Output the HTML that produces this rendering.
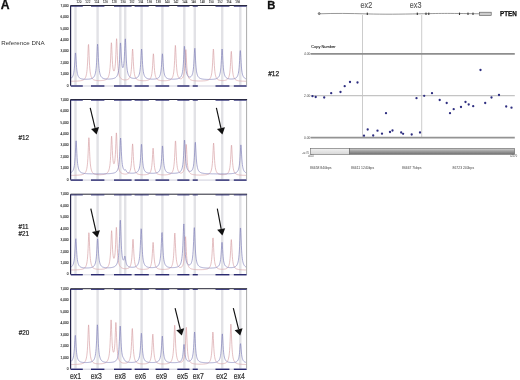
<!DOCTYPE html><html><head><meta charset="utf-8"><style>html,body{margin:0;padding:0;background:#fff;width:520px;height:380px;overflow:hidden}svg{display:block;will-change:transform}text{font-family:"Liberation Sans",sans-serif}</style></head><body>
<svg width="520" height="380" viewBox="0 0 520 380">
<text x="0.7" y="9.3" font-size="12.2" font-weight="bold" fill="#111" stroke="#111" stroke-width="0.3">A</text>
<text x="267.3" y="9.2" font-size="11.2" font-weight="bold" fill="#111" stroke="#111" stroke-width="0.3">B</text>
<rect x="74.30" y="5.50" width="2.4" height="80.00" fill="#e2e2e6"/>
<rect x="96.40" y="5.50" width="2.4" height="80.00" fill="#e2e2e6"/>
<rect x="119.10" y="5.50" width="2.4" height="80.00" fill="#e2e2e6"/>
<rect x="124.00" y="5.50" width="2.4" height="80.00" fill="#e2e2e6"/>
<rect x="140.40" y="5.50" width="2.4" height="80.00" fill="#e2e2e6"/>
<rect x="161.20" y="5.50" width="2.4" height="80.00" fill="#e2e2e6"/>
<rect x="183.10" y="5.50" width="2.4" height="80.00" fill="#e2e2e6"/>
<rect x="193.60" y="5.50" width="2.4" height="80.00" fill="#e2e2e6"/>
<rect x="221.00" y="5.50" width="2.4" height="80.00" fill="#e2e2e6"/>
<rect x="239.10" y="5.50" width="2.4" height="80.00" fill="#e2e2e6"/>
<path d="M71.10,81.29 L71.35,81.28 L71.60,81.28 L71.85,81.27 L72.10,81.27 L72.35,81.26 L72.60,81.26 L72.85,81.25 L73.10,81.24 L73.35,81.24 L73.60,81.23 L73.85,81.22 L74.10,81.22 L74.35,81.21 L74.60,81.20 L74.85,81.19 L75.10,81.18 L75.35,81.17 L75.60,81.16 L75.85,81.15 L76.10,81.14 L76.35,81.13 L76.60,81.11 L76.85,81.10 L77.10,81.09 L77.35,81.07 L77.60,81.05 L77.85,81.04 L78.10,81.02 L78.35,81.00 L78.60,80.98 L78.85,80.95 L79.10,80.93 L79.35,80.90 L79.60,80.87 L79.85,80.84 L80.10,80.81 L80.35,80.77 L80.60,80.73 L80.85,80.69 L81.10,80.64 L81.35,80.59 L81.60,80.53 L81.85,80.47 L82.10,80.40 L82.35,80.32 L82.60,80.23 L82.85,80.13 L83.10,80.02 L83.35,79.89 L83.60,79.75 L83.85,79.58 L84.10,79.39 L84.35,79.17 L84.60,78.91 L84.85,78.60 L85.10,78.24 L85.35,77.80 L85.60,77.27 L85.85,76.62 L86.10,75.81 L86.35,74.78 L86.60,73.47 L86.85,71.75 L87.10,69.45 L87.35,66.33 L87.60,62.10 L87.85,56.54 L88.10,50.13 L88.35,45.02 L88.60,44.46 L88.85,48.88 L89.10,55.27 L89.35,61.07 L89.60,65.56 L89.85,68.87 L90.10,71.30 L90.35,73.11 L90.60,74.49 L90.85,75.56 L91.10,76.41 L91.35,77.08 L91.60,77.62 L91.85,78.07 L92.10,78.44 L92.35,78.75 L92.60,79.01 L92.85,79.23 L93.10,79.42 L93.35,79.59 L93.60,79.73 L93.85,79.85 L94.10,79.96 L94.35,80.05 L94.60,80.13 L94.85,80.20 L95.10,80.27 L95.35,80.32 L95.60,80.37 L95.85,80.41 L96.10,80.45 L96.35,80.49 L96.60,80.52 L96.85,80.54 L97.10,80.56 L97.35,80.58 L97.60,80.60 L97.85,80.61 L98.10,80.62 L98.35,80.63 L98.60,80.64 L98.85,80.64 L99.10,80.65 L99.35,80.65 L99.60,80.64 L99.85,80.64 L100.10,80.63 L100.35,80.63 L100.60,80.62 L100.85,80.60 L101.10,80.59 L101.35,80.57 L101.60,80.56 L101.85,80.53 L102.10,80.51 L102.35,80.48 L102.60,80.45 L102.85,80.42 L103.10,80.39 L103.35,80.35 L103.60,80.30 L103.85,80.25 L104.10,80.20 L104.35,80.14 L104.60,80.07 L104.85,80.00 L105.10,79.91 L105.35,79.82 L105.60,79.72 L105.85,79.60 L106.10,79.47 L106.35,79.32 L106.60,79.15 L106.85,78.96 L107.10,78.74 L107.35,78.48 L107.60,78.18 L107.85,77.83 L108.10,77.41 L108.35,76.90 L108.60,76.29 L108.85,75.55 L109.10,74.62 L109.35,73.44 L109.60,71.93 L109.85,69.95 L110.10,67.31 L110.35,63.72 L110.60,58.91 L110.85,52.81 L111.10,46.47 L111.35,42.74 L111.60,44.23 L111.85,49.66 L112.10,55.77 L112.35,60.81 L112.60,64.50 L112.85,67.09 L113.10,68.87 L113.35,70.04 L113.60,70.74 L113.85,71.05 L114.10,71.00 L114.35,70.60 L114.60,69.79 L114.85,68.51 L115.10,66.61 L115.35,63.86 L115.60,59.98 L115.85,54.66 L116.10,47.99 L116.35,41.52 L116.60,38.70 L116.85,41.77 L117.10,48.50 L117.35,55.43 L117.60,61.05 L117.85,65.25 L118.10,68.34 L118.35,70.64 L118.60,72.39 L118.85,73.74 L119.10,74.80 L119.35,75.65 L119.60,76.33 L119.85,76.90 L120.10,77.36 L120.35,77.76 L120.60,78.09 L120.85,78.37 L121.10,78.61 L121.35,78.81 L121.60,78.99 L121.85,79.14 L122.10,79.27 L122.35,79.39 L122.60,79.49 L122.85,79.58 L123.10,79.65 L123.35,79.72 L123.60,79.77 L123.85,79.82 L124.10,79.85 L124.35,79.88 L124.60,79.90 L124.85,79.92 L125.10,79.92 L125.35,79.92 L125.60,79.92 L125.85,79.90 L126.10,79.88 L126.35,79.84 L126.60,79.80 L126.85,79.75 L127.10,79.68 L127.35,79.60 L127.60,79.51 L127.85,79.40 L128.10,79.26 L128.35,79.10 L128.60,78.91 L128.85,78.68 L129.10,78.41 L129.35,78.07 L129.60,77.67 L129.85,77.16 L130.10,76.54 L130.35,75.75 L130.60,74.74 L130.85,73.43 L131.10,71.68 L131.35,69.33 L131.60,66.11 L131.85,61.80 L132.10,56.46 L132.35,51.30 L132.60,49.00 L132.85,51.31 L133.10,56.49 L133.35,61.84 L133.60,66.16 L133.85,69.39 L134.10,71.75 L134.35,73.51 L134.60,74.84 L134.85,75.86 L135.10,76.66 L135.35,77.30 L135.60,77.82 L135.85,78.24 L136.10,78.59 L136.35,78.88 L136.60,79.12 L136.85,79.33 L137.10,79.51 L137.35,79.66 L137.60,79.80 L137.85,79.91 L138.10,80.01 L138.35,80.10 L138.60,80.18 L138.85,80.25 L139.10,80.31 L139.35,80.36 L139.60,80.41 L139.85,80.45 L140.10,80.49 L140.35,80.52 L140.60,80.55 L140.85,80.58 L141.10,80.60 L141.35,80.62 L141.60,80.64 L141.85,80.66 L142.10,80.67 L142.35,80.68 L142.60,80.69 L142.85,80.69 L143.10,80.70 L143.35,80.70 L143.60,80.70 L143.85,80.69 L144.10,80.69 L144.35,80.68 L144.60,80.67 L144.85,80.66 L145.10,80.65 L145.35,80.63 L145.60,80.61 L145.85,80.58 L146.10,80.56 L146.35,80.52 L146.60,80.49 L146.85,80.45 L147.10,80.40 L147.35,80.35 L147.60,80.28 L147.85,80.21 L148.10,80.13 L148.35,80.04 L148.60,79.93 L148.85,79.81 L149.10,79.67 L149.35,79.50 L149.60,79.30 L149.85,79.06 L150.10,78.78 L150.35,78.43 L150.60,78.01 L150.85,77.49 L151.10,76.84 L151.35,76.01 L151.60,74.94 L151.85,73.52 L152.10,71.61 L152.35,69.02 L152.60,65.51 L152.85,61.07 L153.10,56.45 L153.35,53.79 L153.60,55.00 L153.85,59.15 L154.10,63.83 L154.35,67.74 L154.60,70.67 L154.85,72.83 L155.10,74.42 L155.35,75.62 L155.60,76.54 L155.85,77.26 L156.10,77.83 L156.35,78.28 L156.60,78.65 L156.85,78.96 L157.10,79.22 L157.35,79.43 L157.60,79.61 L157.85,79.77 L158.10,79.90 L158.35,80.01 L158.60,80.11 L158.85,80.20 L159.10,80.27 L159.35,80.34 L159.60,80.40 L159.85,80.45 L160.10,80.49 L160.35,80.53 L160.60,80.57 L160.85,80.60 L161.10,80.62 L161.35,80.65 L161.60,80.67 L161.85,80.68 L162.10,80.70 L162.35,80.71 L162.60,80.72 L162.85,80.73 L163.10,80.74 L163.35,80.74 L163.60,80.74 L163.85,80.74 L164.10,80.74 L164.35,80.74 L164.60,80.73 L164.85,80.73 L165.10,80.72 L165.35,80.71 L165.60,80.70 L165.85,80.68 L166.10,80.66 L166.35,80.64 L166.60,80.62 L166.85,80.60 L167.10,80.57 L167.35,80.54 L167.60,80.50 L167.85,80.46 L168.10,80.42 L168.35,80.37 L168.60,80.32 L168.85,80.26 L169.10,80.19 L169.35,80.11 L169.60,80.02 L169.85,79.93 L170.10,79.81 L170.35,79.69 L170.60,79.54 L170.85,79.37 L171.10,79.18 L171.35,78.95 L171.60,78.69 L171.85,78.37 L172.10,77.99 L172.35,77.54 L172.60,76.99 L172.85,76.30 L173.10,75.45 L173.35,74.36 L173.60,72.96 L173.85,71.11 L174.10,68.62 L174.35,65.24 L174.60,60.68 L174.85,54.90 L175.10,48.89 L175.35,45.41 L175.60,46.98 L175.85,52.35 L176.10,58.41 L176.35,63.46 L176.60,67.26 L176.85,70.03 L177.10,72.08 L177.35,73.61 L177.60,74.78 L177.85,75.68 L178.10,76.39 L178.35,76.95 L178.60,77.39 L178.85,77.75 L179.10,78.03 L179.35,78.26 L179.60,78.43 L179.85,78.56 L180.10,78.66 L180.35,78.72 L180.60,78.75 L180.85,78.75 L181.10,78.72 L181.35,78.66 L181.60,78.56 L181.85,78.42 L182.10,78.24 L182.35,78.00 L182.60,77.70 L182.85,77.32 L183.10,76.84 L183.35,76.23 L183.60,75.44 L183.85,74.42 L184.10,73.08 L184.35,71.28 L184.60,68.83 L184.85,65.50 L185.10,61.05 L185.35,55.71 L185.60,50.98 L185.85,49.60 L186.10,52.67 L186.35,57.97 L186.60,63.07 L186.85,67.10 L187.10,70.09 L187.35,72.28 L187.60,73.92 L187.85,75.16 L188.10,76.12 L188.35,76.88 L188.60,77.48 L188.85,77.98 L189.10,78.38 L189.35,78.71 L189.60,79.00 L189.85,79.23 L190.10,79.44 L190.35,79.61 L190.60,79.76 L190.85,79.89 L191.10,80.01 L191.35,80.11 L191.60,80.20 L191.85,80.28 L192.10,80.35 L192.35,80.41 L192.60,80.47 L192.85,80.52 L193.10,80.57 L193.35,80.61 L193.60,80.65 L193.85,80.68 L194.10,80.71 L194.35,80.74 L194.60,80.77 L194.85,80.79 L195.10,80.81 L195.35,80.83 L195.60,80.85 L195.85,80.87 L196.10,80.88 L196.35,80.90 L196.60,80.91 L196.85,80.92 L197.10,80.93 L197.35,80.94 L197.60,80.95 L197.85,80.96 L198.10,80.96 L198.35,80.97 L198.60,80.97 L198.85,80.98 L199.10,80.98 L199.35,80.98 L199.60,80.98 L199.85,80.98 L200.10,80.98 L200.35,80.98 L200.60,80.98 L200.85,80.98 L201.10,80.97 L201.35,80.97 L201.60,80.97 L201.85,80.96 L202.10,80.95 L202.35,80.94 L202.60,80.93 L202.85,80.92 L203.10,80.91 L203.35,80.90 L203.60,80.89 L203.85,80.87 L204.10,80.85 L204.35,80.83 L204.60,80.81 L204.85,80.79 L205.10,80.76 L205.35,80.73 L205.60,80.70 L205.85,80.66 L206.10,80.62 L206.35,80.58 L206.60,80.53 L206.85,80.48 L207.10,80.42 L207.35,80.35 L207.60,80.27 L207.85,80.18 L208.10,80.08 L208.35,79.97 L208.60,79.84 L208.85,79.69 L209.10,79.52 L209.35,79.32 L209.60,79.08 L209.85,78.80 L210.10,78.46 L210.35,78.06 L210.60,77.56 L210.85,76.95 L211.10,76.18 L211.35,75.20 L211.60,73.94 L211.85,72.27 L212.10,70.03 L212.35,66.98 L212.60,62.87 L212.85,57.65 L213.10,52.23 L213.35,49.10 L213.60,50.53 L213.85,55.40 L214.10,60.89 L214.35,65.47 L214.60,68.91 L214.85,71.44 L215.10,73.31 L215.35,74.71 L215.60,75.79 L215.85,76.63 L216.10,77.30 L216.35,77.83 L216.60,78.27 L216.85,78.62 L217.10,78.92 L217.35,79.17 L217.60,79.38 L217.85,79.56 L218.10,79.71 L218.35,79.84 L218.60,79.96 L218.85,80.06 L219.10,80.14 L219.35,80.21 L219.60,80.28 L219.85,80.33 L220.10,80.38 L220.35,80.42 L220.60,80.46 L220.85,80.49 L221.10,80.51 L221.35,80.53 L221.60,80.55 L221.85,80.56 L222.10,80.57 L222.35,80.57 L222.60,80.57 L222.85,80.57 L223.10,80.56 L223.35,80.55 L223.60,80.54 L223.85,80.52 L224.10,80.49 L224.35,80.46 L224.60,80.43 L224.85,80.39 L225.10,80.34 L225.35,80.28 L225.60,80.21 L225.85,80.14 L226.10,80.05 L226.35,79.95 L226.60,79.83 L226.85,79.69 L227.10,79.52 L227.35,79.33 L227.60,79.10 L227.85,78.83 L228.10,78.50 L228.35,78.09 L228.60,77.60 L228.85,76.98 L229.10,76.20 L229.35,75.20 L229.60,73.90 L229.85,72.16 L230.10,69.81 L230.35,66.61 L230.60,62.35 L230.85,57.25 L231.10,52.72 L231.35,51.39 L231.60,54.31 L231.85,59.35 L232.10,64.21 L232.35,68.04 L232.60,70.88 L232.85,72.96 L233.10,74.51 L233.35,75.69 L233.60,76.60 L233.85,77.32 L234.10,77.89 L234.35,78.35 L234.60,78.73 L234.85,79.05 L235.10,79.31 L235.35,79.54 L235.60,79.73 L235.85,79.89 L236.10,80.03 L236.35,80.16 L236.60,80.26 L236.85,80.36 L237.10,80.44 L237.35,80.52 L237.60,80.58 L237.85,80.64 L238.10,80.70 L238.35,80.75 L238.60,80.79 L238.85,80.83 L239.10,80.87 L239.35,80.90 L239.60,80.93 L239.85,80.96 L240.10,80.98 L240.35,81.01 L240.60,81.03 L240.85,81.05 L241.10,81.07 L241.35,81.09 L241.60,81.10 L241.85,81.12 L242.10,81.13 L242.35,81.15 L242.60,81.16 L242.85,81.17 L243.10,81.18 L243.35,81.19 L243.60,81.20 L243.85,81.21 L244.10,81.22 L244.35,81.23 L244.60,81.24 L244.85,81.25 L245.10,81.25 L245.35,81.26 L245.60,81.27 L245.85,81.27 L246.10,81.28" fill="none" stroke="#d9a4a8" stroke-width="0.7"/>
<path d="M71.10,78.28 L71.35,78.10 L71.60,77.90 L71.85,77.65 L72.10,77.36 L72.35,77.02 L72.60,76.60 L72.85,76.08 L73.10,75.45 L73.35,74.65 L73.60,73.62 L73.85,72.30 L74.10,70.54 L74.35,68.20 L74.60,65.08 L74.85,61.10 L75.10,56.67 L75.35,53.27 L75.60,52.90 L75.85,55.83 L76.10,60.20 L76.35,64.33 L76.60,67.62 L76.85,70.10 L77.10,71.95 L77.35,73.35 L77.60,74.42 L77.85,75.25 L78.10,75.91 L78.35,76.44 L78.60,76.87 L78.85,77.22 L79.10,77.52 L79.35,77.77 L79.60,77.97 L79.85,78.15 L80.10,78.30 L80.35,78.43 L80.60,78.54 L80.85,78.64 L81.10,78.73 L81.35,78.80 L81.60,78.87 L81.85,78.93 L82.10,78.98 L82.35,79.02 L82.60,79.06 L82.85,79.09 L83.10,79.12 L83.35,79.15 L83.60,79.17 L83.85,79.19 L84.10,79.21 L84.35,79.22 L84.60,79.24 L84.85,79.25 L85.10,79.25 L85.35,79.26 L85.60,79.26 L85.85,79.26 L86.10,79.26 L86.35,79.26 L86.60,79.26 L86.85,79.25 L87.10,79.24 L87.35,79.23 L87.60,79.22 L87.85,79.20 L88.10,79.19 L88.35,79.17 L88.60,79.15 L88.85,79.12 L89.10,79.09 L89.35,79.06 L89.60,79.03 L89.85,78.99 L90.10,78.95 L90.35,78.90 L90.60,78.85 L90.85,78.79 L91.10,78.72 L91.35,78.64 L91.60,78.56 L91.85,78.46 L92.10,78.35 L92.35,78.23 L92.60,78.09 L92.85,77.93 L93.10,77.74 L93.35,77.53 L93.60,77.28 L93.85,76.98 L94.10,76.63 L94.35,76.21 L94.60,75.71 L94.85,75.10 L95.10,74.34 L95.35,73.39 L95.60,72.18 L95.85,70.63 L96.10,68.59 L96.35,65.87 L96.60,62.24 L96.85,57.48 L97.10,51.80 L97.35,46.50 L97.60,44.20 L97.85,46.49 L98.10,51.79 L98.35,57.47 L98.60,62.22 L98.85,65.85 L99.10,68.57 L99.35,70.61 L99.60,72.16 L99.85,73.36 L100.10,74.30 L100.35,75.06 L100.60,75.67 L100.85,76.17 L101.10,76.58 L101.35,76.93 L101.60,77.22 L101.85,77.47 L102.10,77.68 L102.35,77.86 L102.60,78.02 L102.85,78.15 L103.10,78.27 L103.35,78.37 L103.60,78.47 L103.85,78.55 L104.10,78.62 L104.35,78.68 L104.60,78.73 L104.85,78.78 L105.10,78.83 L105.35,78.86 L105.60,78.90 L105.85,78.93 L106.10,78.95 L106.35,78.97 L106.60,78.99 L106.85,79.01 L107.10,79.02 L107.35,79.03 L107.60,79.04 L107.85,79.05 L108.10,79.05 L108.35,79.05 L108.60,79.05 L108.85,79.05 L109.10,79.04 L109.35,79.03 L109.60,79.02 L109.85,79.01 L110.10,79.00 L110.35,78.98 L110.60,78.96 L110.85,78.94 L111.10,78.92 L111.35,78.89 L111.60,78.86 L111.85,78.83 L112.10,78.79 L112.35,78.75 L112.60,78.70 L112.85,78.65 L113.10,78.59 L113.35,78.53 L113.60,78.46 L113.85,78.39 L114.10,78.30 L114.35,78.21 L114.60,78.10 L114.85,77.98 L115.10,77.85 L115.35,77.70 L115.60,77.53 L115.85,77.34 L116.10,77.11 L116.35,76.86 L116.60,76.56 L116.85,76.21 L117.10,75.80 L117.35,75.31 L117.60,74.72 L117.85,74.01 L118.10,73.13 L118.35,72.04 L118.60,70.65 L118.85,68.86 L119.10,66.51 L119.35,63.39 L119.60,59.25 L119.85,53.98 L120.10,48.12 L120.35,43.57 L120.60,42.91 L120.85,46.49 L121.10,51.90 L121.35,56.95 L121.60,60.86 L121.85,63.67 L122.10,65.58 L122.35,66.81 L122.60,67.49 L122.85,67.69 L123.10,67.45 L123.35,66.74 L123.60,65.49 L123.85,63.56 L124.10,60.77 L124.35,56.83 L124.60,51.60 L124.85,45.47 L125.10,40.23 L125.35,38.84 L125.60,42.43 L125.85,48.69 L126.10,54.94 L126.35,60.04 L126.60,63.92 L126.85,66.83 L127.10,69.03 L127.35,70.72 L127.60,72.04 L127.85,73.09 L128.10,73.93 L128.35,74.62 L128.60,75.19 L128.85,75.67 L129.10,76.06 L129.35,76.40 L129.60,76.69 L129.85,76.94 L130.10,77.15 L130.35,77.34 L130.60,77.50 L130.85,77.64 L131.10,77.76 L131.35,77.87 L131.60,77.96 L131.85,78.04 L132.10,78.11 L132.35,78.17 L132.60,78.22 L132.85,78.26 L133.10,78.29 L133.35,78.32 L133.60,78.34 L133.85,78.35 L134.10,78.35 L134.35,78.35 L134.60,78.34 L134.85,78.32 L135.10,78.29 L135.35,78.25 L135.60,78.21 L135.85,78.15 L136.10,78.08 L136.35,78.00 L136.60,77.90 L136.85,77.78 L137.10,77.64 L137.35,77.47 L137.60,77.27 L137.85,77.03 L138.10,76.74 L138.35,76.40 L138.60,75.98 L138.85,75.46 L139.10,74.82 L139.35,74.02 L139.60,72.99 L139.85,71.67 L140.10,69.92 L140.35,67.59 L140.60,64.48 L140.85,60.40 L141.10,55.52 L141.35,50.97 L141.60,49.00 L141.85,50.98 L142.10,55.54 L142.35,60.43 L142.60,64.53 L142.85,67.66 L143.10,70.00 L143.35,71.75 L143.60,73.09 L143.85,74.13 L144.10,74.95 L144.35,75.60 L144.60,76.13 L144.85,76.57 L145.10,76.93 L145.35,77.23 L145.60,77.49 L145.85,77.70 L146.10,77.89 L146.35,78.05 L146.60,78.19 L146.85,78.31 L147.10,78.42 L147.35,78.51 L147.60,78.59 L147.85,78.66 L148.10,78.73 L148.35,78.79 L148.60,78.84 L148.85,78.88 L149.10,78.92 L149.35,78.96 L149.60,78.99 L149.85,79.02 L150.10,79.04 L150.35,79.06 L150.60,79.08 L150.85,79.10 L151.10,79.11 L151.35,79.12 L151.60,79.13 L151.85,79.14 L152.10,79.14 L152.35,79.14 L152.60,79.14 L152.85,79.14 L153.10,79.13 L153.35,79.13 L153.60,79.12 L153.85,79.10 L154.10,79.09 L154.35,79.07 L154.60,79.05 L154.85,79.02 L155.10,79.00 L155.35,78.96 L155.60,78.92 L155.85,78.88 L156.10,78.83 L156.35,78.78 L156.60,78.71 L156.85,78.64 L157.10,78.55 L157.35,78.46 L157.60,78.35 L157.85,78.22 L158.10,78.07 L158.35,77.89 L158.60,77.69 L158.85,77.44 L159.10,77.15 L159.35,76.80 L159.60,76.37 L159.85,75.84 L160.10,75.18 L160.35,74.35 L160.60,73.27 L160.85,71.86 L161.10,69.99 L161.35,67.48 L161.60,64.17 L161.85,60.11 L162.10,56.05 L162.35,53.77 L162.60,54.80 L162.85,58.40 L163.10,62.62 L163.35,66.26 L163.60,69.07 L163.85,71.18 L164.10,72.76 L164.35,73.95 L164.60,74.88 L164.85,75.60 L165.10,76.18 L165.35,76.65 L165.60,77.03 L165.85,77.34 L166.10,77.61 L166.35,77.83 L166.60,78.02 L166.85,78.18 L167.10,78.31 L167.35,78.43 L167.60,78.53 L167.85,78.62 L168.10,78.70 L168.35,78.77 L168.60,78.83 L168.85,78.88 L169.10,78.93 L169.35,78.97 L169.60,79.01 L169.85,79.04 L170.10,79.07 L170.35,79.09 L170.60,79.12 L170.85,79.13 L171.10,79.15 L171.35,79.16 L171.60,79.17 L171.85,79.18 L172.10,79.19 L172.35,79.19 L172.60,79.20 L172.85,79.20 L173.10,79.19 L173.35,79.19 L173.60,79.19 L173.85,79.18 L174.10,79.17 L174.35,79.16 L174.60,79.15 L174.85,79.13 L175.10,79.11 L175.35,79.09 L175.60,79.07 L175.85,79.04 L176.10,79.01 L176.35,78.98 L176.60,78.95 L176.85,78.91 L177.10,78.86 L177.35,78.81 L177.60,78.75 L177.85,78.69 L178.10,78.62 L178.35,78.54 L178.60,78.45 L178.85,78.35 L179.10,78.23 L179.35,78.10 L179.60,77.95 L179.85,77.78 L180.10,77.58 L180.35,77.35 L180.60,77.08 L180.85,76.76 L181.10,76.38 L181.35,75.92 L181.60,75.36 L181.85,74.67 L182.10,73.82 L182.35,72.74 L182.60,71.35 L182.85,69.53 L183.10,67.12 L183.35,63.90 L183.60,59.65 L183.85,54.44 L184.10,49.22 L184.35,46.30 L184.60,47.60 L184.85,52.19 L185.10,57.57 L185.35,62.21 L185.60,65.79 L185.85,68.47 L186.10,70.46 L186.35,71.97 L186.60,73.12 L186.85,74.02 L187.10,74.72 L187.35,75.28 L187.60,75.72 L187.85,76.08 L188.10,76.36 L188.35,76.59 L188.60,76.76 L188.85,76.89 L189.10,76.98 L189.35,77.04 L189.60,77.07 L189.85,77.06 L190.10,77.02 L190.35,76.94 L190.60,76.83 L190.85,76.68 L191.10,76.47 L191.35,76.21 L191.60,75.89 L191.85,75.48 L192.10,74.96 L192.35,74.30 L192.60,73.46 L192.85,72.39 L193.10,70.98 L193.35,69.11 L193.60,66.60 L193.85,63.24 L194.10,58.88 L194.35,53.83 L194.60,49.51 L194.85,48.29 L195.10,51.04 L195.35,55.95 L195.60,60.85 L195.85,64.85 L196.10,67.88 L196.35,70.15 L196.60,71.86 L196.85,73.16 L197.10,74.18 L197.35,74.99 L197.60,75.63 L197.85,76.16 L198.10,76.60 L198.35,76.96 L198.60,77.26 L198.85,77.52 L199.10,77.74 L199.35,77.93 L199.60,78.09 L199.85,78.24 L200.10,78.36 L200.35,78.47 L200.60,78.57 L200.85,78.66 L201.10,78.74 L201.35,78.81 L201.60,78.87 L201.85,78.92 L202.10,78.98 L202.35,79.02 L202.60,79.06 L202.85,79.10 L203.10,79.14 L203.35,79.17 L203.60,79.20 L203.85,79.22 L204.10,79.25 L204.35,79.27 L204.60,79.29 L204.85,79.31 L205.10,79.32 L205.35,79.34 L205.60,79.35 L205.85,79.36 L206.10,79.38 L206.35,79.39 L206.60,79.39 L206.85,79.40 L207.10,79.41 L207.35,79.41 L207.60,79.42 L207.85,79.42 L208.10,79.43 L208.35,79.43 L208.60,79.43 L208.85,79.43 L209.10,79.43 L209.35,79.43 L209.60,79.43 L209.85,79.42 L210.10,79.42 L210.35,79.41 L210.60,79.41 L210.85,79.40 L211.10,79.39 L211.35,79.38 L211.60,79.37 L211.85,79.36 L212.10,79.35 L212.35,79.33 L212.60,79.31 L212.85,79.29 L213.10,79.27 L213.35,79.25 L213.60,79.23 L213.85,79.20 L214.10,79.17 L214.35,79.13 L214.60,79.09 L214.85,79.05 L215.10,79.00 L215.35,78.95 L215.60,78.89 L215.85,78.83 L216.10,78.75 L216.35,78.67 L216.60,78.58 L216.85,78.47 L217.10,78.35 L217.35,78.21 L217.60,78.05 L217.85,77.86 L218.10,77.64 L218.35,77.39 L218.60,77.08 L218.85,76.72 L219.10,76.29 L219.35,75.75 L219.60,75.10 L219.85,74.28 L220.10,73.23 L220.35,71.89 L220.60,70.12 L220.85,67.77 L221.10,64.62 L221.35,60.50 L221.60,55.58 L221.85,50.99 L222.10,49.00 L222.35,50.99 L222.60,55.57 L222.85,60.49 L223.10,64.61 L223.35,67.75 L223.60,70.10 L223.85,71.87 L224.10,73.21 L224.35,74.25 L224.60,75.07 L224.85,75.72 L225.10,76.25 L225.35,76.68 L225.60,77.04 L225.85,77.34 L226.10,77.59 L226.35,77.80 L226.60,77.98 L226.85,78.14 L227.10,78.27 L227.35,78.39 L227.60,78.49 L227.85,78.57 L228.10,78.65 L228.35,78.72 L228.60,78.77 L228.85,78.82 L229.10,78.87 L229.35,78.90 L229.60,78.94 L229.85,78.96 L230.10,78.98 L230.35,79.00 L230.60,79.01 L230.85,79.02 L231.10,79.03 L231.35,79.03 L231.60,79.03 L231.85,79.02 L232.10,79.01 L232.35,79.00 L232.60,78.98 L232.85,78.96 L233.10,78.93 L233.35,78.89 L233.60,78.85 L233.85,78.81 L234.10,78.75 L234.35,78.69 L234.60,78.62 L234.85,78.54 L235.10,78.44 L235.35,78.33 L235.60,78.20 L235.85,78.05 L236.10,77.87 L236.35,77.67 L236.60,77.42 L236.85,77.13 L237.10,76.78 L237.35,76.35 L237.60,75.83 L237.85,75.18 L238.10,74.36 L238.35,73.33 L238.60,71.98 L238.85,70.20 L239.10,67.83 L239.35,64.66 L239.60,60.55 L239.85,55.80 L240.10,51.74 L240.35,50.58 L240.60,53.15 L240.85,57.74 L241.10,62.33 L241.35,66.07 L241.60,68.90 L241.85,71.02 L242.10,72.61 L242.35,73.83 L242.60,74.78 L242.85,75.53 L243.10,76.13 L243.35,76.62 L243.60,77.03 L243.85,77.36 L244.10,77.64 L244.35,77.88 L244.60,78.08 L244.85,78.26 L245.10,78.41 L245.35,78.54 L245.60,78.66 L245.85,78.76 L246.10,78.85" fill="none" stroke="#8484bc" stroke-width="0.7"/>
<line x1="246.60" y1="5.50" x2="246.60" y2="85.50" stroke="#aaa" stroke-width="1"/>
<line x1="70.60" y1="5.50" x2="70.60" y2="86.10" stroke="#26264a" stroke-width="1.2"/>
<line x1="70.60" y1="5.50" x2="247.10" y2="5.50" stroke="#1a1a2a" stroke-width="0.95"/>
<rect x="70.60" y="85.30" width="176.50" height="1.4" fill="#dcdce6"/>
<rect x="70.80" y="5.80" width="12.00" height="0.9" fill="#34347a"/>
<rect x="70.80" y="85.30" width="12.00" height="1.4" fill="#2a2a70"/>
<rect x="91.00" y="5.80" width="13.40" height="0.9" fill="#34347a"/>
<rect x="91.00" y="85.30" width="13.40" height="1.4" fill="#2a2a70"/>
<rect x="114.00" y="5.80" width="17.60" height="0.9" fill="#34347a"/>
<rect x="114.00" y="85.30" width="17.60" height="1.4" fill="#2a2a70"/>
<rect x="134.60" y="5.80" width="14.20" height="0.9" fill="#34347a"/>
<rect x="134.60" y="85.30" width="14.20" height="1.4" fill="#2a2a70"/>
<rect x="155.50" y="5.80" width="13.70" height="0.9" fill="#34347a"/>
<rect x="155.50" y="85.30" width="13.70" height="1.4" fill="#2a2a70"/>
<rect x="177.30" y="5.80" width="12.10" height="0.9" fill="#34347a"/>
<rect x="177.30" y="85.30" width="12.10" height="1.4" fill="#2a2a70"/>
<rect x="192.70" y="5.80" width="5.10" height="0.9" fill="#34347a"/>
<rect x="192.70" y="85.30" width="5.10" height="1.4" fill="#2a2a70"/>
<rect x="215.50" y="5.80" width="13.90" height="0.9" fill="#34347a"/>
<rect x="215.50" y="85.30" width="13.90" height="1.4" fill="#2a2a70"/>
<rect x="233.80" y="5.80" width="12.80" height="0.9" fill="#34347a"/>
<rect x="233.80" y="85.30" width="12.80" height="1.4" fill="#2a2a70"/>
<text x="68.6" y="6.70" font-size="3.2" text-anchor="end" fill="#111" stroke="#111" stroke-width="0.08">7,000</text>
<text x="68.6" y="18.13" font-size="3.2" text-anchor="end" fill="#111" stroke="#111" stroke-width="0.08">6,000</text>
<text x="68.6" y="29.56" font-size="3.2" text-anchor="end" fill="#111" stroke="#111" stroke-width="0.08">5,000</text>
<text x="68.6" y="40.99" font-size="3.2" text-anchor="end" fill="#111" stroke="#111" stroke-width="0.08">4,000</text>
<text x="68.6" y="52.41" font-size="3.2" text-anchor="end" fill="#111" stroke="#111" stroke-width="0.08">3,000</text>
<text x="68.6" y="63.84" font-size="3.2" text-anchor="end" fill="#111" stroke="#111" stroke-width="0.08">2,000</text>
<text x="68.6" y="75.27" font-size="3.2" text-anchor="end" fill="#111" stroke="#111" stroke-width="0.08">1,000</text>
<text x="68.6" y="86.70" font-size="3.2" text-anchor="end" fill="#111" stroke="#111" stroke-width="0.08">0</text>
<text x="79.00" y="3.10" font-size="3.0" text-anchor="middle" fill="#222" stroke="#222" stroke-width="0.06">120</text>
<text x="87.82" y="3.10" font-size="3.0" text-anchor="middle" fill="#222" stroke="#222" stroke-width="0.06">122</text>
<text x="96.64" y="3.10" font-size="3.0" text-anchor="middle" fill="#222" stroke="#222" stroke-width="0.06">124</text>
<text x="105.46" y="3.10" font-size="3.0" text-anchor="middle" fill="#222" stroke="#222" stroke-width="0.06">126</text>
<text x="114.28" y="3.10" font-size="3.0" text-anchor="middle" fill="#222" stroke="#222" stroke-width="0.06">128</text>
<text x="123.10" y="3.10" font-size="3.0" text-anchor="middle" fill="#222" stroke="#222" stroke-width="0.06">130</text>
<text x="131.92" y="3.10" font-size="3.0" text-anchor="middle" fill="#222" stroke="#222" stroke-width="0.06">132</text>
<text x="140.74" y="3.10" font-size="3.0" text-anchor="middle" fill="#222" stroke="#222" stroke-width="0.06">134</text>
<text x="149.56" y="3.10" font-size="3.0" text-anchor="middle" fill="#222" stroke="#222" stroke-width="0.06">136</text>
<text x="158.38" y="3.10" font-size="3.0" text-anchor="middle" fill="#222" stroke="#222" stroke-width="0.06">138</text>
<text x="167.20" y="3.10" font-size="3.0" text-anchor="middle" fill="#222" stroke="#222" stroke-width="0.06">140</text>
<text x="176.02" y="3.10" font-size="3.0" text-anchor="middle" fill="#222" stroke="#222" stroke-width="0.06">142</text>
<text x="184.84" y="3.10" font-size="3.0" text-anchor="middle" fill="#222" stroke="#222" stroke-width="0.06">144</text>
<text x="193.66" y="3.10" font-size="3.0" text-anchor="middle" fill="#222" stroke="#222" stroke-width="0.06">146</text>
<text x="202.48" y="3.10" font-size="3.0" text-anchor="middle" fill="#222" stroke="#222" stroke-width="0.06">148</text>
<text x="211.30" y="3.10" font-size="3.0" text-anchor="middle" fill="#222" stroke="#222" stroke-width="0.06">150</text>
<text x="220.12" y="3.10" font-size="3.0" text-anchor="middle" fill="#222" stroke="#222" stroke-width="0.06">152</text>
<text x="228.94" y="3.10" font-size="3.0" text-anchor="middle" fill="#222" stroke="#222" stroke-width="0.06">154</text>
<text x="237.76" y="3.10" font-size="3.0" text-anchor="middle" fill="#222" stroke="#222" stroke-width="0.06">156</text>
<text x="1.2" y="45.4" font-size="6.2" fill="#333">Reference DNA</text>
<rect x="74.30" y="99.50" width="2.4" height="80.10" fill="#e2e2e6"/>
<rect x="96.40" y="99.50" width="2.4" height="80.10" fill="#e2e2e6"/>
<rect x="119.10" y="99.50" width="2.4" height="80.10" fill="#e2e2e6"/>
<rect x="140.40" y="99.50" width="2.4" height="80.10" fill="#e2e2e6"/>
<rect x="161.20" y="99.50" width="2.4" height="80.10" fill="#e2e2e6"/>
<rect x="183.10" y="99.50" width="2.4" height="80.10" fill="#e2e2e6"/>
<rect x="193.60" y="99.50" width="2.4" height="80.10" fill="#e2e2e6"/>
<rect x="221.00" y="99.50" width="2.4" height="80.10" fill="#e2e2e6"/>
<rect x="239.10" y="99.50" width="2.4" height="80.10" fill="#e2e2e6"/>
<path d="M71.10,175.39 L71.35,175.39 L71.60,175.38 L71.85,175.38 L72.10,175.37 L72.35,175.37 L72.60,175.36 L72.85,175.36 L73.10,175.35 L73.35,175.35 L73.60,175.34 L73.85,175.33 L74.10,175.32 L74.35,175.32 L74.60,175.31 L74.85,175.30 L75.10,175.29 L75.35,175.28 L75.60,175.27 L75.85,175.26 L76.10,175.25 L76.35,175.24 L76.60,175.23 L76.85,175.22 L77.10,175.20 L77.35,175.19 L77.60,175.17 L77.85,175.16 L78.10,175.14 L78.35,175.12 L78.60,175.10 L78.85,175.08 L79.10,175.06 L79.35,175.04 L79.60,175.01 L79.85,174.98 L80.10,174.95 L80.35,174.92 L80.60,174.89 L80.85,174.85 L81.10,174.81 L81.35,174.76 L81.60,174.71 L81.85,174.65 L82.10,174.59 L82.35,174.53 L82.60,174.45 L82.85,174.37 L83.10,174.27 L83.35,174.17 L83.60,174.05 L83.85,173.91 L84.10,173.76 L84.35,173.58 L84.60,173.38 L84.85,173.14 L85.10,172.86 L85.35,172.52 L85.60,172.13 L85.85,171.65 L86.10,171.07 L86.35,170.35 L86.60,169.45 L86.85,168.30 L87.10,166.82 L87.35,164.86 L87.60,162.24 L87.85,158.67 L88.10,153.85 L88.35,147.74 L88.60,141.39 L88.85,137.72 L89.10,139.39 L89.35,145.09 L89.60,151.52 L89.85,156.88 L90.10,160.91 L90.35,163.87 L90.60,166.06 L90.85,167.70 L91.10,168.96 L91.35,169.95 L91.60,170.73 L91.85,171.35 L92.10,171.86 L92.35,172.28 L92.60,172.63 L92.85,172.92 L93.10,173.17 L93.35,173.38 L93.60,173.56 L93.85,173.72 L94.10,173.85 L94.35,173.97 L94.60,174.07 L94.85,174.16 L95.10,174.24 L95.35,174.31 L95.60,174.37 L95.85,174.42 L96.10,174.47 L96.35,174.51 L96.60,174.55 L96.85,174.58 L97.10,174.60 L97.35,174.63 L97.60,174.65 L97.85,174.67 L98.10,174.68 L98.35,174.69 L98.60,174.70 L98.85,174.71 L99.10,174.72 L99.35,174.72 L99.60,174.72 L99.85,174.72 L100.10,174.71 L100.35,174.71 L100.60,174.70 L100.85,174.69 L101.10,174.68 L101.35,174.66 L101.60,174.65 L101.85,174.63 L102.10,174.61 L102.35,174.58 L102.60,174.55 L102.85,174.52 L103.10,174.49 L103.35,174.45 L103.60,174.41 L103.85,174.36 L104.10,174.31 L104.35,174.26 L104.60,174.19 L104.85,174.12 L105.10,174.05 L105.35,173.96 L105.60,173.86 L105.85,173.76 L106.10,173.64 L106.35,173.50 L106.60,173.34 L106.85,173.17 L107.10,172.96 L107.35,172.73 L107.60,172.46 L107.85,172.14 L108.10,171.77 L108.35,171.33 L108.60,170.80 L108.85,170.15 L109.10,169.36 L109.35,168.37 L109.60,167.12 L109.85,165.51 L110.10,163.39 L110.35,160.55 L110.60,156.70 L110.85,151.56 L111.10,145.21 L111.35,139.05 L111.60,136.20 L111.85,138.69 L112.10,144.49 L112.35,150.45 L112.60,155.18 L112.85,158.57 L113.10,160.90 L113.35,162.43 L113.60,163.34 L113.85,163.75 L114.10,163.71 L114.35,163.21 L114.60,162.21 L114.85,160.58 L115.10,158.15 L115.35,154.63 L115.60,149.70 L115.85,143.34 L116.10,136.68 L116.35,132.89 L116.60,134.85 L116.85,141.15 L117.10,148.22 L117.35,154.12 L117.60,158.57 L117.85,161.85 L118.10,164.29 L118.35,166.13 L118.60,167.55 L118.85,168.67 L119.10,169.56 L119.35,170.27 L119.60,170.86 L119.85,171.35 L120.10,171.76 L120.35,172.10 L120.60,172.40 L120.85,172.65 L121.10,172.86 L121.35,173.05 L121.60,173.21 L121.85,173.35 L122.10,173.47 L122.35,173.57 L122.60,173.66 L122.85,173.74 L123.10,173.81 L123.35,173.87 L123.60,173.92 L123.85,173.96 L124.10,174.00 L124.35,174.02 L124.60,174.04 L124.85,174.06 L125.10,174.06 L125.35,174.06 L125.60,174.05 L125.85,174.04 L126.10,174.01 L126.35,173.98 L126.60,173.94 L126.85,173.89 L127.10,173.82 L127.35,173.74 L127.60,173.65 L127.85,173.54 L128.10,173.41 L128.35,173.25 L128.60,173.07 L128.85,172.84 L129.10,172.58 L129.35,172.25 L129.60,171.85 L129.85,171.37 L130.10,170.76 L130.35,169.99 L130.60,169.00 L130.85,167.72 L131.10,166.02 L131.35,163.72 L131.60,160.59 L131.85,156.38 L132.10,151.18 L132.35,146.14 L132.60,143.90 L132.85,146.15 L133.10,151.20 L133.35,156.42 L133.60,160.63 L133.85,163.78 L134.10,166.09 L134.35,167.80 L134.60,169.10 L134.85,170.09 L135.10,170.88 L135.35,171.50 L135.60,172.00 L135.85,172.41 L136.10,172.75 L136.35,173.03 L136.60,173.27 L136.85,173.48 L137.10,173.65 L137.35,173.80 L137.60,173.93 L137.85,174.04 L138.10,174.14 L138.35,174.22 L138.60,174.30 L138.85,174.37 L139.10,174.43 L139.35,174.48 L139.60,174.53 L139.85,174.57 L140.10,174.60 L140.35,174.64 L140.60,174.66 L140.85,174.69 L141.10,174.71 L141.35,174.73 L141.60,174.75 L141.85,174.76 L142.10,174.77 L142.35,174.78 L142.60,174.79 L142.85,174.79 L143.10,174.79 L143.35,174.79 L143.60,174.79 L143.85,174.79 L144.10,174.78 L144.35,174.77 L144.60,174.76 L144.85,174.74 L145.10,174.73 L145.35,174.71 L145.60,174.68 L145.85,174.66 L146.10,174.62 L146.35,174.59 L146.60,174.55 L146.85,174.50 L147.10,174.45 L147.35,174.38 L147.60,174.31 L147.85,174.23 L148.10,174.14 L148.35,174.03 L148.60,173.90 L148.85,173.76 L149.10,173.59 L149.35,173.38 L149.60,173.14 L149.85,172.85 L150.10,172.50 L150.35,172.07 L150.60,171.53 L150.85,170.86 L151.10,170.00 L151.35,168.88 L151.60,167.40 L151.85,165.40 L152.10,162.68 L152.35,159.03 L152.60,154.52 L152.85,150.15 L153.10,148.20 L153.35,150.15 L153.60,154.52 L153.85,159.04 L154.10,162.69 L154.35,165.41 L154.60,167.41 L154.85,168.89 L155.10,170.01 L155.35,170.87 L155.60,171.54 L155.85,172.08 L156.10,172.51 L156.35,172.87 L156.60,173.16 L156.85,173.40 L157.10,173.61 L157.35,173.78 L157.60,173.93 L157.85,174.05 L158.10,174.16 L158.35,174.26 L158.60,174.34 L158.85,174.41 L159.10,174.48 L159.35,174.53 L159.60,174.58 L159.85,174.63 L160.10,174.67 L160.35,174.70 L160.60,174.73 L160.85,174.76 L161.10,174.78 L161.35,174.80 L161.60,174.82 L161.85,174.83 L162.10,174.84 L162.35,174.86 L162.60,174.86 L162.85,174.87 L163.10,174.88 L163.35,174.88 L163.60,174.88 L163.85,174.88 L164.10,174.88 L164.35,174.88 L164.60,174.87 L164.85,174.86 L165.10,174.86 L165.35,174.85 L165.60,174.83 L165.85,174.82 L166.10,174.80 L166.35,174.78 L166.60,174.76 L166.85,174.74 L167.10,174.71 L167.35,174.68 L167.60,174.65 L167.85,174.62 L168.10,174.57 L168.35,174.53 L168.60,174.48 L168.85,174.42 L169.10,174.36 L169.35,174.29 L169.60,174.21 L169.85,174.12 L170.10,174.01 L170.35,173.90 L170.60,173.76 L170.85,173.61 L171.10,173.43 L171.35,173.23 L171.60,172.98 L171.85,172.70 L172.10,172.36 L172.35,171.95 L172.60,171.46 L172.85,170.85 L173.10,170.09 L173.35,169.14 L173.60,167.91 L173.85,166.31 L174.10,164.17 L174.35,161.27 L174.60,157.33 L174.85,152.16 L175.10,146.20 L175.35,141.45 L175.60,140.92 L175.85,145.02 L176.10,150.94 L176.35,156.31 L176.60,160.46 L176.85,163.52 L177.10,165.76 L177.35,167.43 L177.60,168.69 L177.85,169.66 L178.10,170.42 L178.35,171.01 L178.60,171.49 L178.85,171.87 L179.10,172.18 L179.35,172.42 L179.60,172.62 L179.85,172.77 L180.10,172.88 L180.35,172.97 L180.60,173.02 L180.85,173.04 L181.10,173.04 L181.35,173.01 L181.60,172.96 L181.85,172.87 L182.10,172.74 L182.35,172.58 L182.60,172.37 L182.85,172.11 L183.10,171.77 L183.35,171.35 L183.60,170.82 L183.85,170.15 L184.10,169.29 L184.35,168.16 L184.60,166.67 L184.85,164.66 L185.10,161.92 L185.35,158.19 L185.60,153.37 L185.85,148.06 L186.10,144.38 L186.35,144.86 L186.60,149.13 L186.85,154.49 L187.10,159.14 L187.35,162.68 L187.60,165.29 L187.85,167.21 L188.10,168.65 L188.35,169.76 L188.60,170.62 L188.85,171.30 L189.10,171.85 L189.35,172.30 L189.60,172.67 L189.85,172.97 L190.10,173.23 L190.35,173.45 L190.60,173.64 L190.85,173.80 L191.10,173.94 L191.35,174.07 L191.60,174.17 L191.85,174.27 L192.10,174.35 L192.35,174.43 L192.60,174.49 L192.85,174.55 L193.10,174.61 L193.35,174.65 L193.60,174.70 L193.85,174.74 L194.10,174.77 L194.35,174.81 L194.60,174.84 L194.85,174.86 L195.10,174.89 L195.35,174.91 L195.60,174.93 L195.85,174.95 L196.10,174.97 L196.35,174.98 L196.60,175.00 L196.85,175.01 L197.10,175.02 L197.35,175.03 L197.60,175.04 L197.85,175.05 L198.10,175.06 L198.35,175.06 L198.60,175.07 L198.85,175.07 L199.10,175.08 L199.35,175.08 L199.60,175.08 L199.85,175.08 L200.10,175.08 L200.35,175.08 L200.60,175.08 L200.85,175.08 L201.10,175.08 L201.35,175.07 L201.60,175.07 L201.85,175.06 L202.10,175.06 L202.35,175.05 L202.60,175.04 L202.85,175.03 L203.10,175.02 L203.35,175.01 L203.60,175.00 L203.85,174.98 L204.10,174.97 L204.35,174.95 L204.60,174.93 L204.85,174.91 L205.10,174.88 L205.35,174.86 L205.60,174.83 L205.85,174.79 L206.10,174.76 L206.35,174.72 L206.60,174.67 L206.85,174.62 L207.10,174.57 L207.35,174.50 L207.60,174.43 L207.85,174.35 L208.10,174.27 L208.35,174.16 L208.60,174.05 L208.85,173.91 L209.10,173.76 L209.35,173.58 L209.60,173.37 L209.85,173.13 L210.10,172.84 L210.35,172.49 L210.60,172.07 L210.85,171.55 L211.10,170.91 L211.35,170.10 L211.60,169.08 L211.85,167.74 L212.10,165.98 L212.35,163.60 L212.60,160.35 L212.85,156.01 L213.10,150.63 L213.35,145.42 L213.60,143.10 L213.85,145.42 L214.10,150.62 L214.35,156.00 L214.60,160.34 L214.85,163.58 L215.10,165.96 L215.35,167.72 L215.60,169.05 L215.85,170.07 L216.10,170.87 L216.35,171.51 L216.60,172.02 L216.85,172.44 L217.10,172.79 L217.35,173.07 L217.60,173.31 L217.85,173.52 L218.10,173.69 L218.35,173.84 L218.60,173.97 L218.85,174.07 L219.10,174.17 L219.35,174.25 L219.60,174.32 L219.85,174.39 L220.10,174.44 L220.35,174.49 L220.60,174.53 L220.85,174.56 L221.10,174.59 L221.35,174.61 L221.60,174.63 L221.85,174.65 L222.10,174.66 L222.35,174.66 L222.60,174.67 L222.85,174.67 L223.10,174.66 L223.35,174.65 L223.60,174.64 L223.85,174.62 L224.10,174.60 L224.35,174.58 L224.60,174.54 L224.85,174.51 L225.10,174.46 L225.35,174.41 L225.60,174.35 L225.85,174.28 L226.10,174.20 L226.35,174.11 L226.60,174.00 L226.85,173.87 L227.10,173.73 L227.35,173.55 L227.60,173.35 L227.85,173.11 L228.10,172.82 L228.35,172.46 L228.60,172.04 L228.85,171.51 L229.10,170.85 L229.35,170.02 L229.60,168.94 L229.85,167.54 L230.10,165.66 L230.35,163.11 L230.60,159.64 L230.85,155.08 L231.10,149.82 L231.35,145.63 L231.60,145.18 L231.85,148.82 L232.10,154.07 L232.35,158.84 L232.60,162.52 L232.85,165.25 L233.10,167.25 L233.35,168.75 L233.60,169.88 L233.85,170.77 L234.10,171.47 L234.35,172.02 L234.60,172.48 L234.85,172.85 L235.10,173.16 L235.35,173.42 L235.60,173.64 L235.85,173.83 L236.10,173.99 L236.35,174.13 L236.60,174.26 L236.85,174.36 L237.10,174.46 L237.35,174.54 L237.60,174.61 L237.85,174.68 L238.10,174.74 L238.35,174.79 L238.60,174.84 L238.85,174.89 L239.10,174.93 L239.35,174.96 L239.60,175.00 L239.85,175.03 L240.10,175.06 L240.35,175.08 L240.60,175.11 L240.85,175.13 L241.10,175.15 L241.35,175.17 L241.60,175.18 L241.85,175.20 L242.10,175.22 L242.35,175.23 L242.60,175.25 L242.85,175.26 L243.10,175.27 L243.35,175.28 L243.60,175.29 L243.85,175.30 L244.10,175.31 L244.35,175.32 L244.60,175.33 L244.85,175.34 L245.10,175.35 L245.35,175.35 L245.60,175.36 L245.85,175.37 L246.10,175.37" fill="none" stroke="#d9a4a8" stroke-width="0.7"/>
<path d="M71.10,172.52 L71.35,172.36 L71.60,172.19 L71.85,171.99 L72.10,171.75 L72.35,171.47 L72.60,171.14 L72.85,170.75 L73.10,170.28 L73.35,169.70 L73.60,168.99 L73.85,168.11 L74.10,166.98 L74.35,165.53 L74.60,163.62 L74.85,161.08 L75.10,157.67 L75.35,153.22 L75.60,147.91 L75.85,142.95 L76.10,140.80 L76.35,142.95 L76.60,147.90 L76.85,153.22 L77.10,157.67 L77.35,161.07 L77.60,163.61 L77.85,165.52 L78.10,166.97 L78.35,168.10 L78.60,168.99 L78.85,169.70 L79.10,170.27 L79.35,170.74 L79.60,171.13 L79.85,171.46 L80.10,171.74 L80.35,171.97 L80.60,172.17 L80.85,172.35 L81.10,172.50 L81.35,172.63 L81.60,172.75 L81.85,172.85 L82.10,172.94 L82.35,173.02 L82.60,173.09 L82.85,173.16 L83.10,173.22 L83.35,173.27 L83.60,173.32 L83.85,173.36 L84.10,173.40 L84.35,173.44 L84.60,173.47 L84.85,173.50 L85.10,173.53 L85.35,173.55 L85.60,173.58 L85.85,173.60 L86.10,173.62 L86.35,173.64 L86.60,173.65 L86.85,173.67 L87.10,173.69 L87.35,173.70 L87.60,173.71 L87.85,173.72 L88.10,173.74 L88.35,173.75 L88.60,173.76 L88.85,173.77 L89.10,173.77 L89.35,173.78 L89.60,173.79 L89.85,173.80 L90.10,173.80 L90.35,173.81 L90.60,173.82 L90.85,173.82 L91.10,173.83 L91.35,173.83 L91.60,173.84 L91.85,173.84 L92.10,173.84 L92.35,173.85 L92.60,173.85 L92.85,173.85 L93.10,173.86 L93.35,173.86 L93.60,173.86 L93.85,173.86 L94.10,173.87 L94.35,173.87 L94.60,173.87 L94.85,173.87 L95.10,173.87 L95.35,173.87 L95.60,173.88 L95.85,173.88 L96.10,173.88 L96.35,173.88 L96.60,173.88 L96.85,173.88 L97.10,173.88 L97.35,173.88 L97.60,173.88 L97.85,173.88 L98.10,173.88 L98.35,173.88 L98.60,173.88 L98.85,173.88 L99.10,173.88 L99.35,173.87 L99.60,173.87 L99.85,173.87 L100.10,173.87 L100.35,173.87 L100.60,173.87 L100.85,173.86 L101.10,173.86 L101.35,173.86 L101.60,173.86 L101.85,173.86 L102.10,173.85 L102.35,173.85 L102.60,173.85 L102.85,173.84 L103.10,173.84 L103.35,173.84 L103.60,173.83 L103.85,173.83 L104.10,173.82 L104.35,173.82 L104.60,173.81 L104.85,173.81 L105.10,173.80 L105.35,173.79 L105.60,173.79 L105.85,173.78 L106.10,173.77 L106.35,173.77 L106.60,173.76 L106.85,173.75 L107.10,173.74 L107.35,173.73 L107.60,173.72 L107.85,173.71 L108.10,173.70 L108.35,173.69 L108.60,173.68 L108.85,173.66 L109.10,173.65 L109.35,173.63 L109.60,173.62 L109.85,173.60 L110.10,173.58 L110.35,173.56 L110.60,173.54 L110.85,173.51 L111.10,173.49 L111.35,173.46 L111.60,173.43 L111.85,173.40 L112.10,173.37 L112.35,173.33 L112.60,173.29 L112.85,173.24 L113.10,173.19 L113.35,173.14 L113.60,173.08 L113.85,173.02 L114.10,172.94 L114.35,172.86 L114.60,172.77 L114.85,172.67 L115.10,172.56 L115.35,172.43 L115.60,172.28 L115.85,172.12 L116.10,171.93 L116.35,171.71 L116.60,171.45 L116.85,171.15 L117.10,170.79 L117.35,170.36 L117.60,169.85 L117.85,169.23 L118.10,168.46 L118.35,167.50 L118.60,166.28 L118.85,164.70 L119.10,162.64 L119.35,159.90 L119.60,156.22 L119.85,151.42 L120.10,145.68 L120.35,140.33 L120.60,138.00 L120.85,140.30 L121.10,145.62 L121.35,151.33 L121.60,156.10 L121.85,159.74 L122.10,162.45 L122.35,164.47 L122.60,165.99 L122.85,167.15 L123.10,168.04 L123.35,168.72 L123.60,169.23 L123.85,169.60 L124.10,169.84 L124.35,169.95 L124.60,169.92 L124.85,169.78 L125.10,169.61 L125.35,169.57 L125.60,169.83 L125.85,170.31 L126.10,170.84 L126.35,171.29 L126.60,171.66 L126.85,171.94 L127.10,172.16 L127.35,172.34 L127.60,172.49 L127.85,172.61 L128.10,172.71 L128.35,172.79 L128.60,172.86 L128.85,172.92 L129.10,172.97 L129.35,173.02 L129.60,173.06 L129.85,173.09 L130.10,173.11 L130.35,173.14 L130.60,173.16 L130.85,173.17 L131.10,173.18 L131.35,173.19 L131.60,173.19 L131.85,173.20 L132.10,173.19 L132.35,173.19 L132.60,173.18 L132.85,173.17 L133.10,173.15 L133.35,173.14 L133.60,173.11 L133.85,173.09 L134.10,173.06 L134.35,173.02 L134.60,172.98 L134.85,172.94 L135.10,172.88 L135.35,172.82 L135.60,172.75 L135.85,172.67 L136.10,172.58 L136.35,172.48 L136.60,172.36 L136.85,172.22 L137.10,172.05 L137.35,171.86 L137.60,171.64 L137.85,171.38 L138.10,171.07 L138.35,170.69 L138.60,170.23 L138.85,169.67 L139.10,168.98 L139.35,168.10 L139.60,166.99 L139.85,165.53 L140.10,163.61 L140.35,161.04 L140.60,157.61 L140.85,153.23 L141.10,148.37 L141.35,144.63 L141.60,144.23 L141.85,147.46 L142.10,152.27 L142.35,156.81 L142.60,160.43 L142.85,163.16 L143.10,165.20 L143.35,166.73 L143.60,167.91 L143.85,168.83 L144.10,169.56 L144.35,170.15 L144.60,170.62 L144.85,171.01 L145.10,171.34 L145.35,171.61 L145.60,171.84 L145.85,172.04 L146.10,172.21 L146.35,172.36 L146.60,172.48 L146.85,172.59 L147.10,172.69 L147.35,172.77 L147.60,172.85 L147.85,172.91 L148.10,172.97 L148.35,173.02 L148.60,173.07 L148.85,173.11 L149.10,173.14 L149.35,173.17 L149.60,173.20 L149.85,173.22 L150.10,173.25 L150.35,173.26 L150.60,173.28 L150.85,173.29 L151.10,173.30 L151.35,173.31 L151.60,173.31 L151.85,173.32 L152.10,173.32 L152.35,173.32 L152.60,173.31 L152.85,173.31 L153.10,173.30 L153.35,173.29 L153.60,173.28 L153.85,173.26 L154.10,173.24 L154.35,173.22 L154.60,173.20 L154.85,173.17 L155.10,173.14 L155.35,173.10 L155.60,173.06 L155.85,173.02 L156.10,172.96 L156.35,172.90 L156.60,172.84 L156.85,172.76 L157.10,172.67 L157.35,172.57 L157.60,172.46 L157.85,172.32 L158.10,172.17 L158.35,171.99 L158.60,171.78 L158.85,171.53 L159.10,171.23 L159.35,170.88 L159.60,170.45 L159.85,169.92 L160.10,169.26 L160.35,168.43 L160.60,167.38 L160.85,166.01 L161.10,164.19 L161.35,161.76 L161.60,158.53 L161.85,154.40 L162.10,149.81 L162.35,146.29 L162.60,145.91 L162.85,148.95 L163.10,153.49 L163.35,157.77 L163.60,161.19 L163.85,163.76 L164.10,165.68 L164.35,167.13 L164.60,168.24 L164.85,169.11 L165.10,169.79 L165.35,170.34 L165.60,170.79 L165.85,171.16 L166.10,171.47 L166.35,171.73 L166.60,171.94 L166.85,172.13 L167.10,172.29 L167.35,172.42 L167.60,172.54 L167.85,172.64 L168.10,172.73 L168.35,172.81 L168.60,172.88 L168.85,172.94 L169.10,173.00 L169.35,173.04 L169.60,173.09 L169.85,173.12 L170.10,173.16 L170.35,173.18 L170.60,173.21 L170.85,173.23 L171.10,173.25 L171.35,173.27 L171.60,173.28 L171.85,173.29 L172.10,173.30 L172.35,173.30 L172.60,173.31 L172.85,173.31 L173.10,173.31 L173.35,173.31 L173.60,173.31 L173.85,173.30 L174.10,173.29 L174.35,173.28 L174.60,173.27 L174.85,173.26 L175.10,173.24 L175.35,173.22 L175.60,173.20 L175.85,173.18 L176.10,173.15 L176.35,173.12 L176.60,173.08 L176.85,173.04 L177.10,173.00 L177.35,172.95 L177.60,172.90 L177.85,172.84 L178.10,172.77 L178.35,172.69 L178.60,172.60 L178.85,172.51 L179.10,172.40 L179.35,172.27 L179.60,172.13 L179.85,171.96 L180.10,171.77 L180.35,171.55 L180.60,171.29 L180.85,170.98 L181.10,170.62 L181.35,170.19 L181.60,169.66 L181.85,169.02 L182.10,168.22 L182.35,167.22 L182.60,165.95 L182.85,164.29 L183.10,162.10 L183.35,159.17 L183.60,155.28 L183.85,150.31 L184.10,144.78 L184.35,140.53 L184.60,140.07 L184.85,143.71 L185.10,149.15 L185.35,154.28 L185.60,158.36 L185.85,161.43 L186.10,163.72 L186.35,165.44 L186.60,166.75 L186.85,167.77 L187.10,168.56 L187.35,169.19 L187.60,169.70 L187.85,170.10 L188.10,170.43 L188.35,170.69 L188.60,170.90 L188.85,171.06 L189.10,171.19 L189.35,171.28 L189.60,171.34 L189.85,171.37 L190.10,171.37 L190.35,171.34 L190.60,171.28 L190.85,171.19 L191.10,171.07 L191.35,170.90 L191.60,170.69 L191.85,170.42 L192.10,170.09 L192.35,169.67 L192.60,169.14 L192.85,168.48 L193.10,167.63 L193.35,166.54 L193.60,165.12 L193.85,163.24 L194.10,160.71 L194.35,157.33 L194.60,152.94 L194.85,147.86 L195.10,143.52 L195.35,142.29 L195.60,145.06 L195.85,149.99 L196.10,154.92 L196.35,158.94 L196.60,161.99 L196.85,164.28 L197.10,165.99 L197.35,167.31 L197.60,168.33 L197.85,169.15 L198.10,169.80 L198.35,170.33 L198.60,170.77 L198.85,171.13 L199.10,171.44 L199.35,171.70 L199.60,171.92 L199.85,172.11 L200.10,172.28 L200.35,172.42 L200.60,172.55 L200.85,172.67 L201.10,172.77 L201.35,172.85 L201.60,172.93 L201.85,173.01 L202.10,173.07 L202.35,173.13 L202.60,173.18 L202.85,173.23 L203.10,173.28 L203.35,173.32 L203.60,173.35 L203.85,173.39 L204.10,173.42 L204.35,173.45 L204.60,173.48 L204.85,173.50 L205.10,173.52 L205.35,173.55 L205.60,173.57 L205.85,173.59 L206.10,173.60 L206.35,173.62 L206.60,173.64 L206.85,173.65 L207.10,173.66 L207.35,173.68 L207.60,173.69 L207.85,173.70 L208.10,173.71 L208.35,173.72 L208.60,173.73 L208.85,173.74 L209.10,173.75 L209.35,173.76 L209.60,173.77 L209.85,173.77 L210.10,173.78 L210.35,173.79 L210.60,173.80 L210.85,173.80 L211.10,173.81 L211.35,173.81 L211.60,173.82 L211.85,173.82 L212.10,173.83 L212.35,173.83 L212.60,173.84 L212.85,173.84 L213.10,173.84 L213.35,173.85 L213.60,173.85 L213.85,173.85 L214.10,173.86 L214.35,173.86 L214.60,173.86 L214.85,173.87 L215.10,173.87 L215.35,173.87 L215.60,173.87 L215.85,173.88 L216.10,173.88 L216.35,173.88 L216.60,173.88 L216.85,173.88 L217.10,173.88 L217.35,173.89 L217.60,173.89 L217.85,173.89 L218.10,173.89 L218.35,173.89 L218.60,173.89 L218.85,173.89 L219.10,173.89 L219.35,173.89 L219.60,173.89 L219.85,173.89 L220.10,173.89 L220.35,173.89 L220.60,173.89 L220.85,173.89 L221.10,173.89 L221.35,173.89 L221.60,173.89 L221.85,173.89 L222.10,173.89 L222.35,173.89 L222.60,173.88 L222.85,173.88 L223.10,173.88 L223.35,173.88 L223.60,173.88 L223.85,173.87 L224.10,173.87 L224.35,173.87 L224.60,173.87 L224.85,173.86 L225.10,173.86 L225.35,173.86 L225.60,173.85 L225.85,173.85 L226.10,173.84 L226.35,173.84 L226.60,173.83 L226.85,173.83 L227.10,173.82 L227.35,173.82 L227.60,173.81 L227.85,173.80 L228.10,173.80 L228.35,173.79 L228.60,173.78 L228.85,173.77 L229.10,173.76 L229.35,173.75 L229.60,173.74 L229.85,173.73 L230.10,173.72 L230.35,173.70 L230.60,173.69 L230.85,173.67 L231.10,173.65 L231.35,173.63 L231.60,173.61 L231.85,173.59 L232.10,173.57 L232.35,173.54 L232.60,173.51 L232.85,173.48 L233.10,173.45 L233.35,173.41 L233.60,173.37 L233.85,173.32 L234.10,173.27 L234.35,173.22 L234.60,173.16 L234.85,173.09 L235.10,173.01 L235.35,172.92 L235.60,172.82 L235.85,172.71 L236.10,172.58 L236.35,172.43 L236.60,172.26 L236.85,172.06 L237.10,171.82 L237.35,171.54 L237.60,171.21 L237.85,170.81 L238.10,170.33 L238.35,169.73 L238.60,168.99 L238.85,168.04 L239.10,166.83 L239.35,165.24 L239.60,163.13 L239.85,160.31 L240.10,156.58 L240.35,152.01 L240.60,147.44 L240.85,144.88 L241.10,146.04 L241.35,150.10 L241.60,154.84 L241.85,158.94 L242.10,162.10 L242.35,164.48 L242.60,166.25 L242.85,167.60 L243.10,168.64 L243.35,169.46 L243.60,170.11 L243.85,170.64 L244.10,171.07 L244.35,171.43 L244.60,171.73 L244.85,171.98 L245.10,172.19 L245.35,172.38 L245.60,172.54 L245.85,172.67 L246.10,172.79" fill="none" stroke="#8484bc" stroke-width="0.7"/>
<line x1="246.60" y1="99.50" x2="246.60" y2="179.60" stroke="#aaa" stroke-width="1"/>
<line x1="70.60" y1="99.50" x2="70.60" y2="180.20" stroke="#26264a" stroke-width="1.2"/>
<line x1="70.60" y1="99.50" x2="247.10" y2="99.50" stroke="#1a1a2a" stroke-width="0.95"/>
<rect x="70.60" y="179.40" width="176.50" height="1.4" fill="#dcdce6"/>
<rect x="70.80" y="99.80" width="12.00" height="0.9" fill="#34347a"/>
<rect x="70.80" y="179.40" width="12.00" height="1.4" fill="#2a2a70"/>
<rect x="91.00" y="99.80" width="13.40" height="0.9" fill="#34347a"/>
<rect x="91.00" y="179.40" width="13.40" height="1.4" fill="#2a2a70"/>
<rect x="114.00" y="99.80" width="17.60" height="0.9" fill="#34347a"/>
<rect x="114.00" y="179.40" width="17.60" height="1.4" fill="#2a2a70"/>
<rect x="134.60" y="99.80" width="14.20" height="0.9" fill="#34347a"/>
<rect x="134.60" y="179.40" width="14.20" height="1.4" fill="#2a2a70"/>
<rect x="155.50" y="99.80" width="13.70" height="0.9" fill="#34347a"/>
<rect x="155.50" y="179.40" width="13.70" height="1.4" fill="#2a2a70"/>
<rect x="177.30" y="99.80" width="12.10" height="0.9" fill="#34347a"/>
<rect x="177.30" y="179.40" width="12.10" height="1.4" fill="#2a2a70"/>
<rect x="192.70" y="99.80" width="5.10" height="0.9" fill="#34347a"/>
<rect x="192.70" y="179.40" width="5.10" height="1.4" fill="#2a2a70"/>
<rect x="215.50" y="99.80" width="13.90" height="0.9" fill="#34347a"/>
<rect x="215.50" y="179.40" width="13.90" height="1.4" fill="#2a2a70"/>
<rect x="233.80" y="99.80" width="12.80" height="0.9" fill="#34347a"/>
<rect x="233.80" y="179.40" width="12.80" height="1.4" fill="#2a2a70"/>
<text x="68.6" y="100.70" font-size="3.2" text-anchor="end" fill="#111" stroke="#111" stroke-width="0.08">7,000</text>
<text x="68.6" y="112.14" font-size="3.2" text-anchor="end" fill="#111" stroke="#111" stroke-width="0.08">6,000</text>
<text x="68.6" y="123.59" font-size="3.2" text-anchor="end" fill="#111" stroke="#111" stroke-width="0.08">5,000</text>
<text x="68.6" y="135.03" font-size="3.2" text-anchor="end" fill="#111" stroke="#111" stroke-width="0.08">4,000</text>
<text x="68.6" y="146.47" font-size="3.2" text-anchor="end" fill="#111" stroke="#111" stroke-width="0.08">3,000</text>
<text x="68.6" y="157.91" font-size="3.2" text-anchor="end" fill="#111" stroke="#111" stroke-width="0.08">2,000</text>
<text x="68.6" y="169.36" font-size="3.2" text-anchor="end" fill="#111" stroke="#111" stroke-width="0.08">1,000</text>
<text x="68.6" y="180.80" font-size="3.2" text-anchor="end" fill="#111" stroke="#111" stroke-width="0.08">0</text>
<text x="18.5" y="139.5" font-size="6.3" fill="#222" stroke="#222" stroke-width="0.2">#12</text>
<line x1="90.2" y1="107.9" x2="95.05" y2="127.98" stroke="#111" stroke-width="1.15"/>
<path d="M96.6,134.4 L91.07,128.95 L99.04,127.02 Z" fill="#111"/>
<line x1="216.4" y1="107.9" x2="220.95" y2="128.16" stroke="#111" stroke-width="1.15"/>
<path d="M222.4,134.6 L216.95,129.06 L224.95,127.26 Z" fill="#111"/>
<rect x="74.30" y="194.20" width="2.4" height="80.00" fill="#e2e2e6"/>
<rect x="96.40" y="194.20" width="2.4" height="80.00" fill="#e2e2e6"/>
<rect x="119.10" y="194.20" width="2.4" height="80.00" fill="#e2e2e6"/>
<rect x="124.00" y="194.20" width="2.4" height="80.00" fill="#e2e2e6"/>
<rect x="140.40" y="194.20" width="2.4" height="80.00" fill="#e2e2e6"/>
<rect x="161.20" y="194.20" width="2.4" height="80.00" fill="#e2e2e6"/>
<rect x="183.10" y="194.20" width="2.4" height="80.00" fill="#e2e2e6"/>
<rect x="193.60" y="194.20" width="2.4" height="80.00" fill="#e2e2e6"/>
<rect x="221.00" y="194.20" width="2.4" height="80.00" fill="#e2e2e6"/>
<rect x="239.10" y="194.20" width="2.4" height="80.00" fill="#e2e2e6"/>
<path d="M71.10,269.99 L71.35,269.99 L71.60,269.99 L71.85,269.98 L72.10,269.98 L72.35,269.97 L72.60,269.96 L72.85,269.96 L73.10,269.95 L73.35,269.95 L73.60,269.94 L73.85,269.93 L74.10,269.93 L74.35,269.92 L74.60,269.91 L74.85,269.90 L75.10,269.89 L75.35,269.89 L75.60,269.88 L75.85,269.87 L76.10,269.85 L76.35,269.84 L76.60,269.83 L76.85,269.82 L77.10,269.81 L77.35,269.79 L77.60,269.78 L77.85,269.76 L78.10,269.74 L78.35,269.73 L78.60,269.71 L78.85,269.69 L79.10,269.66 L79.35,269.64 L79.60,269.62 L79.85,269.59 L80.10,269.56 L80.35,269.53 L80.60,269.49 L80.85,269.45 L81.10,269.41 L81.35,269.37 L81.60,269.32 L81.85,269.26 L82.10,269.20 L82.35,269.14 L82.60,269.06 L82.85,268.98 L83.10,268.89 L83.35,268.78 L83.60,268.66 L83.85,268.53 L84.10,268.38 L84.35,268.20 L84.60,268.00 L84.85,267.76 L85.10,267.48 L85.35,267.16 L85.60,266.76 L85.85,266.29 L86.10,265.71 L86.35,265.00 L86.60,264.11 L86.85,262.98 L87.10,261.51 L87.35,259.58 L87.60,256.98 L87.85,253.44 L88.10,248.68 L88.35,242.63 L88.60,236.35 L88.85,232.72 L89.10,234.37 L89.35,240.01 L89.60,246.37 L89.85,251.67 L90.10,255.66 L90.35,258.59 L90.60,260.76 L90.85,262.38 L91.10,263.63 L91.35,264.60 L91.60,265.37 L91.85,265.99 L92.10,266.50 L92.35,266.91 L92.60,267.26 L92.85,267.55 L93.10,267.79 L93.35,268.00 L93.60,268.18 L93.85,268.33 L94.10,268.47 L94.35,268.58 L94.60,268.68 L94.85,268.77 L95.10,268.85 L95.35,268.92 L95.60,268.98 L95.85,269.03 L96.10,269.07 L96.35,269.12 L96.60,269.15 L96.85,269.18 L97.10,269.21 L97.35,269.23 L97.60,269.25 L97.85,269.27 L98.10,269.29 L98.35,269.30 L98.60,269.31 L98.85,269.31 L99.10,269.32 L99.35,269.32 L99.60,269.32 L99.85,269.32 L100.10,269.32 L100.35,269.31 L100.60,269.30 L100.85,269.29 L101.10,269.28 L101.35,269.27 L101.60,269.25 L101.85,269.23 L102.10,269.21 L102.35,269.18 L102.60,269.16 L102.85,269.12 L103.10,269.09 L103.35,269.05 L103.60,269.01 L103.85,268.96 L104.10,268.91 L104.35,268.86 L104.60,268.79 L104.85,268.72 L105.10,268.65 L105.35,268.56 L105.60,268.46 L105.85,268.35 L106.10,268.23 L106.35,268.10 L106.60,267.94 L106.85,267.76 L107.10,267.56 L107.35,267.32 L107.60,267.05 L107.85,266.74 L108.10,266.36 L108.35,265.92 L108.60,265.39 L108.85,264.74 L109.10,263.95 L109.35,262.96 L109.60,261.70 L109.85,260.09 L110.10,257.96 L110.35,255.11 L110.60,251.25 L110.85,246.10 L111.10,239.74 L111.35,233.56 L111.60,230.70 L111.85,233.20 L112.10,239.02 L112.35,244.99 L112.60,249.73 L112.85,253.13 L113.10,255.46 L113.35,257.00 L113.60,257.91 L113.85,258.32 L114.10,258.28 L114.35,257.78 L114.60,256.78 L114.85,255.15 L115.10,252.71 L115.35,249.18 L115.60,244.24 L115.85,237.86 L116.10,231.19 L116.35,227.40 L116.60,229.36 L116.85,235.67 L117.10,242.76 L117.35,248.67 L117.60,253.13 L117.85,256.42 L118.10,258.87 L118.35,260.72 L118.60,262.14 L118.85,263.26 L119.10,264.15 L119.35,264.87 L119.60,265.47 L119.85,265.95 L120.10,266.36 L120.35,266.71 L120.60,267.00 L120.85,267.26 L121.10,267.47 L121.35,267.66 L121.60,267.82 L121.85,267.96 L122.10,268.09 L122.35,268.19 L122.60,268.29 L122.85,268.37 L123.10,268.44 L123.35,268.50 L123.60,268.56 L123.85,268.60 L124.10,268.64 L124.35,268.67 L124.60,268.69 L124.85,268.71 L125.10,268.72 L125.35,268.73 L125.60,268.73 L125.85,268.72 L126.10,268.70 L126.35,268.68 L126.60,268.65 L126.85,268.61 L127.10,268.56 L127.35,268.51 L127.60,268.44 L127.85,268.35 L128.10,268.25 L128.35,268.13 L128.60,267.99 L128.85,267.83 L129.10,267.63 L129.35,267.39 L129.60,267.10 L129.85,266.75 L130.10,266.33 L130.35,265.80 L130.60,265.14 L130.85,264.30 L131.10,263.23 L131.35,261.81 L131.60,259.92 L131.85,257.35 L132.10,253.85 L132.35,249.26 L132.60,243.96 L132.85,239.74 L133.10,239.28 L133.35,242.95 L133.60,248.25 L133.85,253.06 L134.10,256.78 L134.35,259.52 L134.60,261.54 L134.85,263.05 L135.10,264.20 L135.35,265.09 L135.60,265.79 L135.85,266.35 L136.10,266.81 L136.35,267.18 L136.60,267.50 L136.85,267.76 L137.10,267.98 L137.35,268.16 L137.60,268.32 L137.85,268.46 L138.10,268.58 L138.35,268.69 L138.60,268.78 L138.85,268.86 L139.10,268.93 L139.35,268.99 L139.60,269.04 L139.85,269.09 L140.10,269.14 L140.35,269.17 L140.60,269.21 L140.85,269.24 L141.10,269.26 L141.35,269.28 L141.60,269.30 L141.85,269.32 L142.10,269.33 L142.35,269.34 L142.60,269.35 L142.85,269.36 L143.10,269.36 L143.35,269.36 L143.60,269.36 L143.85,269.36 L144.10,269.35 L144.35,269.34 L144.60,269.33 L144.85,269.32 L145.10,269.30 L145.35,269.28 L145.60,269.26 L145.85,269.23 L146.10,269.20 L146.35,269.16 L146.60,269.12 L146.85,269.07 L147.10,269.02 L147.35,268.96 L147.60,268.88 L147.85,268.80 L148.10,268.71 L148.35,268.60 L148.60,268.47 L148.85,268.32 L149.10,268.15 L149.35,267.94 L149.60,267.70 L149.85,267.40 L150.10,267.05 L150.35,266.61 L150.60,266.06 L150.85,265.38 L151.10,264.51 L151.35,263.38 L151.60,261.87 L151.85,259.85 L152.10,257.09 L152.35,253.39 L152.60,248.81 L152.85,244.38 L153.10,242.40 L153.35,244.38 L153.60,248.81 L153.85,253.39 L154.10,257.09 L154.35,259.85 L154.60,261.88 L154.85,263.38 L155.10,264.51 L155.35,265.39 L155.60,266.07 L155.85,266.61 L156.10,267.05 L156.35,267.41 L156.60,267.71 L156.85,267.95 L157.10,268.16 L157.35,268.33 L157.60,268.48 L157.85,268.61 L158.10,268.72 L158.35,268.82 L158.60,268.90 L158.85,268.97 L159.10,269.04 L159.35,269.09 L159.60,269.14 L159.85,269.18 L160.10,269.22 L160.35,269.26 L160.60,269.28 L160.85,269.31 L161.10,269.33 L161.35,269.35 L161.60,269.37 L161.85,269.38 L162.10,269.39 L162.35,269.40 L162.60,269.41 L162.85,269.41 L163.10,269.41 L163.35,269.41 L163.60,269.41 L163.85,269.41 L164.10,269.40 L164.35,269.40 L164.60,269.39 L164.85,269.38 L165.10,269.36 L165.35,269.35 L165.60,269.33 L165.85,269.31 L166.10,269.29 L166.35,269.26 L166.60,269.23 L166.85,269.20 L167.10,269.16 L167.35,269.12 L167.60,269.07 L167.85,269.02 L168.10,268.96 L168.35,268.89 L168.60,268.82 L168.85,268.74 L169.10,268.64 L169.35,268.54 L169.60,268.42 L169.85,268.28 L170.10,268.12 L170.35,267.94 L170.60,267.73 L170.85,267.48 L171.10,267.19 L171.35,266.84 L171.60,266.42 L171.85,265.92 L172.10,265.30 L172.35,264.54 L172.60,263.57 L172.85,262.34 L173.10,260.73 L173.35,258.59 L173.60,255.70 L173.85,251.78 L174.10,246.56 L174.35,240.30 L174.60,234.75 L174.85,233.11 L175.10,236.66 L175.35,242.80 L175.60,248.72 L175.85,253.38 L176.10,256.82 L176.35,259.35 L176.60,261.22 L176.85,262.63 L177.10,263.71 L177.35,264.56 L177.60,265.22 L177.85,265.75 L178.10,266.17 L178.35,266.51 L178.60,266.78 L178.85,266.99 L179.10,267.16 L179.35,267.29 L179.60,267.38 L179.85,267.45 L180.10,267.48 L180.35,267.48 L180.60,267.45 L180.85,267.40 L181.10,267.31 L181.35,267.18 L181.60,267.02 L181.85,266.80 L182.10,266.53 L182.35,266.19 L182.60,265.76 L182.85,265.21 L183.10,264.53 L183.35,263.64 L183.60,262.50 L183.85,260.99 L184.10,258.96 L184.35,256.19 L184.60,252.43 L184.85,247.47 L185.10,241.75 L185.35,237.20 L185.60,236.72 L185.85,240.70 L186.10,246.43 L186.35,251.64 L186.60,255.67 L186.85,258.65 L187.10,260.84 L187.35,262.48 L187.60,263.73 L187.85,264.70 L188.10,265.46 L188.35,266.08 L188.60,266.58 L188.85,266.99 L189.10,267.33 L189.35,267.62 L189.60,267.86 L189.85,268.07 L190.10,268.25 L190.35,268.41 L190.60,268.54 L190.85,268.66 L191.10,268.76 L191.35,268.86 L191.60,268.94 L191.85,269.01 L192.10,269.08 L192.35,269.14 L192.60,269.19 L192.85,269.24 L193.10,269.28 L193.35,269.32 L193.60,269.36 L193.85,269.39 L194.10,269.42 L194.35,269.44 L194.60,269.47 L194.85,269.49 L195.10,269.51 L195.35,269.53 L195.60,269.55 L195.85,269.56 L196.10,269.58 L196.35,269.59 L196.60,269.60 L196.85,269.61 L197.10,269.62 L197.35,269.63 L197.60,269.64 L197.85,269.65 L198.10,269.65 L198.35,269.66 L198.60,269.66 L198.85,269.66 L199.10,269.67 L199.35,269.67 L199.60,269.67 L199.85,269.67 L200.10,269.67 L200.35,269.67 L200.60,269.66 L200.85,269.66 L201.10,269.65 L201.35,269.65 L201.60,269.64 L201.85,269.64 L202.10,269.63 L202.35,269.62 L202.60,269.61 L202.85,269.59 L203.10,269.58 L203.35,269.57 L203.60,269.55 L203.85,269.53 L204.10,269.51 L204.35,269.49 L204.60,269.46 L204.85,269.43 L205.10,269.40 L205.35,269.37 L205.60,269.33 L205.85,269.29 L206.10,269.24 L206.35,269.19 L206.60,269.13 L206.85,269.07 L207.10,268.99 L207.35,268.91 L207.60,268.81 L207.85,268.71 L208.10,268.58 L208.35,268.44 L208.60,268.28 L208.85,268.09 L209.10,267.86 L209.35,267.60 L209.60,267.28 L209.85,266.91 L210.10,266.45 L210.35,265.88 L210.60,265.18 L210.85,264.29 L211.10,263.14 L211.35,261.64 L211.60,259.65 L211.85,256.94 L212.10,253.25 L212.35,248.41 L212.60,242.83 L212.85,238.39 L213.10,237.90 L213.35,241.75 L213.60,247.32 L213.85,252.37 L214.10,256.27 L214.35,259.15 L214.60,261.27 L214.85,262.85 L215.10,264.06 L215.35,264.99 L215.60,265.72 L215.85,266.31 L216.10,266.78 L216.35,267.17 L216.60,267.50 L216.85,267.77 L217.10,267.99 L217.35,268.19 L217.60,268.35 L217.85,268.49 L218.10,268.61 L218.35,268.72 L218.60,268.81 L218.85,268.89 L219.10,268.96 L219.35,269.02 L219.60,269.07 L219.85,269.11 L220.10,269.15 L220.35,269.19 L220.60,269.22 L220.85,269.24 L221.10,269.26 L221.35,269.27 L221.60,269.29 L221.85,269.29 L222.10,269.30 L222.35,269.30 L222.60,269.30 L222.85,269.29 L223.10,269.28 L223.35,269.27 L223.60,269.25 L223.85,269.23 L224.10,269.20 L224.35,269.17 L224.60,269.13 L224.85,269.09 L225.10,269.04 L225.35,268.98 L225.60,268.91 L225.85,268.83 L226.10,268.74 L226.35,268.64 L226.60,268.51 L226.85,268.37 L227.10,268.20 L227.35,268.01 L227.60,267.77 L227.85,267.49 L228.10,267.16 L228.35,266.75 L228.60,266.24 L228.85,265.61 L229.10,264.82 L229.35,263.80 L229.60,262.48 L229.85,260.71 L230.10,258.32 L230.35,255.07 L230.60,250.74 L230.85,245.55 L231.10,240.94 L231.35,239.60 L231.60,242.56 L231.85,247.69 L232.10,252.62 L232.35,256.52 L232.60,259.40 L232.85,261.52 L233.10,263.10 L233.35,264.30 L233.60,265.23 L233.85,265.95 L234.10,266.53 L234.35,267.01 L234.60,267.39 L234.85,267.71 L235.10,267.98 L235.35,268.21 L235.60,268.40 L235.85,268.57 L236.10,268.71 L236.35,268.84 L236.60,268.95 L236.85,269.04 L237.10,269.13 L237.35,269.20 L237.60,269.27 L237.85,269.33 L238.10,269.39 L238.35,269.44 L238.60,269.48 L238.85,269.52 L239.10,269.56 L239.35,269.59 L239.60,269.62 L239.85,269.65 L240.10,269.68 L240.35,269.70 L240.60,269.72 L240.85,269.75 L241.10,269.76 L241.35,269.78 L241.60,269.80 L241.85,269.81 L242.10,269.83 L242.35,269.84 L242.60,269.86 L242.85,269.87 L243.10,269.88 L243.35,269.89 L243.60,269.90 L243.85,269.91 L244.10,269.92 L244.35,269.93 L244.60,269.94 L244.85,269.94 L245.10,269.95 L245.35,269.96 L245.60,269.97 L245.85,269.97 L246.10,269.98" fill="none" stroke="#d9a4a8" stroke-width="0.7"/>
<path d="M71.10,267.03 L71.35,266.87 L71.60,266.68 L71.85,266.46 L72.10,266.20 L72.35,265.89 L72.60,265.52 L72.85,265.08 L73.10,264.54 L73.35,263.87 L73.60,263.03 L73.85,261.96 L74.10,260.58 L74.35,258.76 L74.60,256.33 L74.85,253.08 L75.10,248.88 L75.35,244.03 L75.60,239.87 L75.85,238.68 L76.10,241.30 L76.35,245.98 L76.60,250.66 L76.85,254.47 L77.10,257.36 L77.35,259.52 L77.60,261.14 L77.85,262.38 L78.10,263.34 L78.35,264.11 L78.60,264.71 L78.85,265.21 L79.10,265.61 L79.35,265.95 L79.60,266.23 L79.85,266.47 L80.10,266.67 L80.35,266.84 L80.60,266.99 L80.85,267.12 L81.10,267.23 L81.35,267.33 L81.60,267.41 L81.85,267.49 L82.10,267.56 L82.35,267.61 L82.60,267.67 L82.85,267.71 L83.10,267.75 L83.35,267.79 L83.60,267.82 L83.85,267.85 L84.10,267.87 L84.35,267.89 L84.60,267.91 L84.85,267.93 L85.10,267.94 L85.35,267.95 L85.60,267.96 L85.85,267.97 L86.10,267.97 L86.35,267.97 L86.60,267.97 L86.85,267.97 L87.10,267.97 L87.35,267.96 L87.60,267.96 L87.85,267.95 L88.10,267.94 L88.35,267.92 L88.60,267.91 L88.85,267.89 L89.10,267.87 L89.35,267.84 L89.60,267.82 L89.85,267.79 L90.10,267.75 L90.35,267.71 L90.60,267.67 L90.85,267.62 L91.10,267.57 L91.35,267.51 L91.60,267.44 L91.85,267.36 L92.10,267.27 L92.35,267.17 L92.60,267.05 L92.85,266.92 L93.10,266.76 L93.35,266.58 L93.60,266.37 L93.85,266.13 L94.10,265.84 L94.35,265.49 L94.60,265.07 L94.85,264.56 L95.10,263.93 L95.35,263.14 L95.60,262.13 L95.85,260.84 L96.10,259.14 L96.35,256.87 L96.60,253.84 L96.85,249.87 L97.10,245.13 L97.35,240.72 L97.60,238.80 L97.85,240.71 L98.10,245.13 L98.35,249.86 L98.60,253.83 L98.85,256.85 L99.10,259.12 L99.35,260.81 L99.60,262.11 L99.85,263.11 L100.10,263.90 L100.35,264.52 L100.60,265.03 L100.85,265.45 L101.10,265.79 L101.35,266.08 L101.60,266.32 L101.85,266.53 L102.10,266.70 L102.35,266.86 L102.60,266.99 L102.85,267.10 L103.10,267.20 L103.35,267.28 L103.60,267.36 L103.85,267.42 L104.10,267.48 L104.35,267.53 L104.60,267.57 L104.85,267.61 L105.10,267.65 L105.35,267.68 L105.60,267.70 L105.85,267.72 L106.10,267.74 L106.35,267.76 L106.60,267.77 L106.85,267.78 L107.10,267.79 L107.35,267.80 L107.60,267.80 L107.85,267.80 L108.10,267.80 L108.35,267.80 L108.60,267.79 L108.85,267.78 L109.10,267.77 L109.35,267.76 L109.60,267.75 L109.85,267.73 L110.10,267.71 L110.35,267.69 L110.60,267.66 L110.85,267.64 L111.10,267.60 L111.35,267.57 L111.60,267.53 L111.85,267.49 L112.10,267.44 L112.35,267.39 L112.60,267.33 L112.85,267.27 L113.10,267.20 L113.35,267.12 L113.60,267.03 L113.85,266.94 L114.10,266.83 L114.35,266.71 L114.60,266.57 L114.85,266.41 L115.10,266.24 L115.35,266.04 L115.60,265.81 L115.85,265.54 L116.10,265.23 L116.35,264.88 L116.60,264.46 L116.85,263.96 L117.10,263.36 L117.35,262.65 L117.60,261.77 L117.85,260.69 L118.10,259.34 L118.35,257.62 L118.60,255.39 L118.85,252.47 L119.10,248.57 L119.35,243.36 L119.60,236.63 L119.85,228.84 L120.10,222.17 L120.35,220.22 L120.60,224.35 L120.85,231.75 L121.10,239.14 L121.35,245.13 L121.60,249.64 L121.85,252.95 L122.10,255.38 L122.35,257.16 L122.60,258.45 L122.85,259.34 L123.10,259.91 L123.35,260.17 L123.60,260.11 L123.85,259.71 L124.10,258.91 L124.35,257.76 L124.60,256.56 L124.85,255.98 L125.10,256.60 L125.35,258.17 L125.60,259.93 L125.85,261.46 L126.10,262.66 L126.35,263.57 L126.60,264.28 L126.85,264.82 L127.10,265.25 L127.35,265.60 L127.60,265.88 L127.85,266.12 L128.10,266.31 L128.35,266.48 L128.60,266.62 L128.85,266.74 L129.10,266.84 L129.35,266.93 L129.60,267.00 L129.85,267.07 L130.10,267.12 L130.35,267.17 L130.60,267.20 L130.85,267.24 L131.10,267.26 L131.35,267.28 L131.60,267.29 L131.85,267.30 L132.10,267.31 L132.35,267.30 L132.60,267.30 L132.85,267.28 L133.10,267.27 L133.35,267.24 L133.60,267.21 L133.85,267.18 L134.10,267.13 L134.35,267.08 L134.60,267.02 L134.85,266.95 L135.10,266.87 L135.35,266.78 L135.60,266.68 L135.85,266.55 L136.10,266.41 L136.35,266.25 L136.60,266.06 L136.85,265.84 L137.10,265.58 L137.35,265.28 L137.60,264.92 L137.85,264.49 L138.10,263.97 L138.35,263.33 L138.60,262.55 L138.85,261.59 L139.10,260.36 L139.35,258.79 L139.60,256.74 L139.85,254.02 L140.10,250.37 L140.35,245.54 L140.60,239.48 L140.85,233.05 L141.10,228.74 L141.35,229.28 L141.60,234.27 L141.85,240.78 L142.10,246.62 L142.35,251.21 L142.60,254.65 L142.85,257.22 L143.10,259.17 L143.35,260.66 L143.60,261.83 L143.85,262.77 L144.10,263.52 L144.35,264.13 L144.60,264.63 L144.85,265.05 L145.10,265.41 L145.35,265.71 L145.60,265.96 L145.85,266.18 L146.10,266.37 L146.35,266.54 L146.60,266.68 L146.85,266.81 L147.10,266.92 L147.35,267.01 L147.60,267.10 L147.85,267.18 L148.10,267.24 L148.35,267.30 L148.60,267.35 L148.85,267.40 L149.10,267.44 L149.35,267.48 L149.60,267.51 L149.85,267.54 L150.10,267.56 L150.35,267.58 L150.60,267.59 L150.85,267.61 L151.10,267.62 L151.35,267.62 L151.60,267.63 L151.85,267.63 L152.10,267.63 L152.35,267.62 L152.60,267.61 L152.85,267.60 L153.10,267.59 L153.35,267.57 L153.60,267.55 L153.85,267.52 L154.10,267.49 L154.35,267.46 L154.60,267.42 L154.85,267.37 L155.10,267.32 L155.35,267.26 L155.60,267.20 L155.85,267.12 L156.10,267.03 L156.35,266.94 L156.60,266.82 L156.85,266.69 L157.10,266.55 L157.35,266.38 L157.60,266.18 L157.85,265.95 L158.10,265.68 L158.35,265.36 L158.60,264.98 L158.85,264.53 L159.10,263.97 L159.35,263.29 L159.60,262.45 L159.85,261.39 L160.10,260.04 L160.35,258.28 L160.60,255.95 L160.85,252.84 L161.10,248.69 L161.35,243.39 L161.60,237.50 L161.85,232.98 L162.10,232.50 L162.35,236.40 L162.60,242.22 L162.85,247.72 L163.10,252.10 L163.35,255.40 L163.60,257.86 L163.85,259.72 L164.10,261.15 L164.35,262.26 L164.60,263.14 L164.85,263.84 L165.10,264.42 L165.35,264.89 L165.60,265.29 L165.85,265.62 L166.10,265.90 L166.35,266.13 L166.60,266.34 L166.85,266.51 L167.10,266.66 L167.35,266.79 L167.60,266.91 L167.85,267.01 L168.10,267.10 L168.35,267.18 L168.60,267.24 L168.85,267.30 L169.10,267.36 L169.35,267.40 L169.60,267.45 L169.85,267.48 L170.10,267.51 L170.35,267.54 L170.60,267.56 L170.85,267.58 L171.10,267.60 L171.35,267.61 L171.60,267.62 L171.85,267.63 L172.10,267.63 L172.35,267.63 L172.60,267.63 L172.85,267.63 L173.10,267.62 L173.35,267.62 L173.60,267.60 L173.85,267.59 L174.10,267.57 L174.35,267.55 L174.60,267.53 L174.85,267.50 L175.10,267.47 L175.35,267.43 L175.60,267.39 L175.85,267.35 L176.10,267.30 L176.35,267.24 L176.60,267.18 L176.85,267.11 L177.10,267.03 L177.35,266.95 L177.60,266.85 L177.85,266.74 L178.10,266.61 L178.35,266.47 L178.60,266.31 L178.85,266.13 L179.10,265.92 L179.35,265.68 L179.60,265.40 L179.85,265.07 L180.10,264.69 L180.35,264.23 L180.60,263.68 L180.85,263.02 L181.10,262.22 L181.35,261.23 L181.60,259.98 L181.85,258.40 L182.10,256.35 L182.35,253.65 L182.60,250.05 L182.85,245.25 L183.10,239.03 L183.35,231.84 L183.60,225.69 L183.85,223.92 L184.10,227.77 L184.35,234.67 L184.60,241.56 L184.85,247.17 L185.10,251.41 L185.35,254.57 L185.60,256.94 L185.85,258.74 L186.10,260.13 L186.35,261.21 L186.60,262.07 L186.85,262.75 L187.10,263.29 L187.35,263.73 L187.60,264.08 L187.85,264.36 L188.10,264.57 L188.35,264.73 L188.60,264.84 L188.85,264.91 L189.10,264.94 L189.35,264.93 L189.60,264.87 L189.85,264.77 L190.10,264.62 L190.35,264.42 L190.60,264.16 L190.85,263.82 L191.10,263.40 L191.35,262.86 L191.60,262.19 L191.85,261.34 L192.10,260.25 L192.35,258.86 L192.60,257.03 L192.85,254.60 L193.10,251.35 L193.35,246.99 L193.60,241.34 L193.85,234.79 L194.10,229.20 L194.35,227.62 L194.60,231.19 L194.85,237.55 L195.10,243.90 L195.35,249.09 L195.60,253.02 L195.85,255.96 L196.10,258.17 L196.35,259.87 L196.60,261.19 L196.85,262.23 L197.10,263.07 L197.35,263.76 L197.60,264.32 L197.85,264.79 L198.10,265.19 L198.35,265.52 L198.60,265.81 L198.85,266.06 L199.10,266.27 L199.35,266.46 L199.60,266.62 L199.85,266.76 L200.10,266.89 L200.35,267.01 L200.60,267.11 L200.85,267.20 L201.10,267.28 L201.35,267.36 L201.60,267.42 L201.85,267.48 L202.10,267.54 L202.35,267.59 L202.60,267.64 L202.85,267.68 L203.10,267.72 L203.35,267.75 L203.60,267.78 L203.85,267.81 L204.10,267.84 L204.35,267.87 L204.60,267.89 L204.85,267.91 L205.10,267.93 L205.35,267.95 L205.60,267.97 L205.85,267.98 L206.10,268.00 L206.35,268.01 L206.60,268.02 L206.85,268.03 L207.10,268.04 L207.35,268.05 L207.60,268.06 L207.85,268.06 L208.10,268.07 L208.35,268.07 L208.60,268.08 L208.85,268.08 L209.10,268.08 L209.35,268.08 L209.60,268.08 L209.85,268.08 L210.10,268.08 L210.35,268.08 L210.60,268.07 L210.85,268.07 L211.10,268.06 L211.35,268.06 L211.60,268.05 L211.85,268.04 L212.10,268.03 L212.35,268.01 L212.60,268.00 L212.85,267.99 L213.10,267.97 L213.35,267.95 L213.60,267.93 L213.85,267.90 L214.10,267.88 L214.35,267.85 L214.60,267.81 L214.85,267.77 L215.10,267.73 L215.35,267.69 L215.60,267.63 L215.85,267.58 L216.10,267.51 L216.35,267.44 L216.60,267.35 L216.85,267.25 L217.10,267.14 L217.35,267.02 L217.60,266.87 L217.85,266.70 L218.10,266.50 L218.35,266.27 L218.60,265.99 L218.85,265.66 L219.10,265.25 L219.35,264.75 L219.60,264.14 L219.85,263.36 L220.10,262.38 L220.35,261.09 L220.60,259.39 L220.85,257.12 L221.10,254.10 L221.35,250.24 L221.60,245.94 L221.85,242.64 L222.10,242.29 L222.35,245.13 L222.60,249.37 L222.85,253.37 L223.10,256.56 L223.35,258.97 L223.60,260.76 L223.85,262.11 L224.10,263.15 L224.35,263.96 L224.60,264.59 L224.85,265.11 L225.10,265.52 L225.35,265.86 L225.60,266.15 L225.85,266.38 L226.10,266.58 L226.35,266.75 L226.60,266.90 L226.85,267.02 L227.10,267.12 L227.35,267.21 L227.60,267.29 L227.85,267.36 L228.10,267.42 L228.35,267.47 L228.60,267.51 L228.85,267.54 L229.10,267.57 L229.35,267.60 L229.60,267.62 L229.85,267.63 L230.10,267.64 L230.35,267.65 L230.60,267.65 L230.85,267.65 L231.10,267.64 L231.35,267.63 L231.60,267.62 L231.85,267.60 L232.10,267.58 L232.35,267.55 L232.60,267.52 L232.85,267.48 L233.10,267.44 L233.35,267.39 L233.60,267.33 L233.85,267.27 L234.10,267.19 L234.35,267.11 L234.60,267.01 L234.85,266.90 L235.10,266.78 L235.35,266.63 L235.60,266.47 L235.85,266.28 L236.10,266.05 L236.35,265.79 L236.60,265.49 L236.85,265.13 L237.10,264.70 L237.35,264.19 L237.60,263.56 L237.85,262.80 L238.10,261.85 L238.35,260.65 L238.60,259.12 L238.85,257.13 L239.10,254.49 L239.35,250.97 L239.60,246.27 L239.85,240.28 L240.10,233.62 L240.35,228.50 L240.60,227.95 L240.85,232.37 L241.10,238.97 L241.35,245.20 L241.60,250.16 L241.85,253.90 L242.10,256.70 L242.35,258.81 L242.60,260.43 L242.85,261.69 L243.10,262.69 L243.35,263.50 L243.60,264.15 L243.85,264.70 L244.10,265.15 L244.35,265.53 L244.60,265.85 L244.85,266.12 L245.10,266.36 L245.35,266.57 L245.60,266.75 L245.85,266.90 L246.10,267.04" fill="none" stroke="#8484bc" stroke-width="0.7"/>
<line x1="246.60" y1="194.20" x2="246.60" y2="274.20" stroke="#aaa" stroke-width="1"/>
<line x1="70.60" y1="194.20" x2="70.60" y2="274.80" stroke="#26264a" stroke-width="1.2"/>
<line x1="70.60" y1="194.20" x2="247.10" y2="194.20" stroke="#1a1a2a" stroke-width="0.95"/>
<rect x="70.60" y="274.00" width="176.50" height="1.4" fill="#dcdce6"/>
<rect x="70.80" y="194.50" width="12.00" height="0.9" fill="#34347a"/>
<rect x="70.80" y="274.00" width="12.00" height="1.4" fill="#2a2a70"/>
<rect x="91.00" y="194.50" width="13.40" height="0.9" fill="#34347a"/>
<rect x="91.00" y="274.00" width="13.40" height="1.4" fill="#2a2a70"/>
<rect x="114.00" y="194.50" width="17.60" height="0.9" fill="#34347a"/>
<rect x="114.00" y="274.00" width="17.60" height="1.4" fill="#2a2a70"/>
<rect x="134.60" y="194.50" width="14.20" height="0.9" fill="#34347a"/>
<rect x="134.60" y="274.00" width="14.20" height="1.4" fill="#2a2a70"/>
<rect x="155.50" y="194.50" width="13.70" height="0.9" fill="#34347a"/>
<rect x="155.50" y="274.00" width="13.70" height="1.4" fill="#2a2a70"/>
<rect x="177.30" y="194.50" width="12.10" height="0.9" fill="#34347a"/>
<rect x="177.30" y="274.00" width="12.10" height="1.4" fill="#2a2a70"/>
<rect x="192.70" y="194.50" width="5.10" height="0.9" fill="#34347a"/>
<rect x="192.70" y="274.00" width="5.10" height="1.4" fill="#2a2a70"/>
<rect x="215.50" y="194.50" width="13.90" height="0.9" fill="#34347a"/>
<rect x="215.50" y="274.00" width="13.90" height="1.4" fill="#2a2a70"/>
<rect x="233.80" y="194.50" width="12.80" height="0.9" fill="#34347a"/>
<rect x="233.80" y="274.00" width="12.80" height="1.4" fill="#2a2a70"/>
<text x="68.6" y="195.40" font-size="3.2" text-anchor="end" fill="#111" stroke="#111" stroke-width="0.08">7,000</text>
<text x="68.6" y="206.83" font-size="3.2" text-anchor="end" fill="#111" stroke="#111" stroke-width="0.08">6,000</text>
<text x="68.6" y="218.26" font-size="3.2" text-anchor="end" fill="#111" stroke="#111" stroke-width="0.08">5,000</text>
<text x="68.6" y="229.69" font-size="3.2" text-anchor="end" fill="#111" stroke="#111" stroke-width="0.08">4,000</text>
<text x="68.6" y="241.11" font-size="3.2" text-anchor="end" fill="#111" stroke="#111" stroke-width="0.08">3,000</text>
<text x="68.6" y="252.54" font-size="3.2" text-anchor="end" fill="#111" stroke="#111" stroke-width="0.08">2,000</text>
<text x="68.6" y="263.97" font-size="3.2" text-anchor="end" fill="#111" stroke="#111" stroke-width="0.08">1,000</text>
<text x="68.6" y="275.40" font-size="3.2" text-anchor="end" fill="#111" stroke="#111" stroke-width="0.08">0</text>
<text x="18.4" y="229.0" font-size="6.3" fill="#222" stroke="#222" stroke-width="0.2">#11</text>
<text x="18.4" y="236.4" font-size="6.3" fill="#222" stroke="#222" stroke-width="0.2">#21</text>
<line x1="90.8" y1="208.7" x2="95.93" y2="231.17" stroke="#111" stroke-width="1.15"/>
<path d="M97.4,237.6 L91.93,232.08 L99.93,230.25 Z" fill="#111"/>
<line x1="217.3" y1="208.7" x2="221.16" y2="228.92" stroke="#111" stroke-width="1.15"/>
<path d="M222.4,235.4 L217.13,229.69 L225.19,228.15 Z" fill="#111"/>
<rect x="74.30" y="288.70" width="2.4" height="80.10" fill="#e2e2e6"/>
<rect x="96.40" y="288.70" width="2.4" height="80.10" fill="#e2e2e6"/>
<rect x="119.10" y="288.70" width="2.4" height="80.10" fill="#e2e2e6"/>
<rect x="140.40" y="288.70" width="2.4" height="80.10" fill="#e2e2e6"/>
<rect x="161.20" y="288.70" width="2.4" height="80.10" fill="#e2e2e6"/>
<rect x="183.10" y="288.70" width="2.4" height="80.10" fill="#e2e2e6"/>
<rect x="193.60" y="288.70" width="2.4" height="80.10" fill="#e2e2e6"/>
<rect x="221.00" y="288.70" width="2.4" height="80.10" fill="#e2e2e6"/>
<rect x="239.10" y="288.70" width="2.4" height="80.10" fill="#e2e2e6"/>
<path d="M71.10,364.57 L71.35,364.57 L71.60,364.56 L71.85,364.56 L72.10,364.55 L72.35,364.55 L72.60,364.54 L72.85,364.53 L73.10,364.53 L73.35,364.52 L73.60,364.51 L73.85,364.51 L74.10,364.50 L74.35,364.49 L74.60,364.48 L74.85,364.47 L75.10,364.46 L75.35,364.45 L75.60,364.44 L75.85,364.43 L76.10,364.42 L76.35,364.40 L76.60,364.39 L76.85,364.38 L77.10,364.36 L77.35,364.34 L77.60,364.33 L77.85,364.31 L78.10,364.29 L78.35,364.27 L78.60,364.25 L78.85,364.22 L79.10,364.20 L79.35,364.17 L79.60,364.14 L79.85,364.11 L80.10,364.07 L80.35,364.04 L80.60,364.00 L80.85,363.95 L81.10,363.90 L81.35,363.85 L81.60,363.79 L81.85,363.72 L82.10,363.65 L82.35,363.57 L82.60,363.48 L82.85,363.38 L83.10,363.27 L83.35,363.14 L83.60,362.99 L83.85,362.83 L84.10,362.63 L84.35,362.41 L84.60,362.15 L84.85,361.85 L85.10,361.49 L85.35,361.05 L85.60,360.53 L85.85,359.90 L86.10,359.11 L86.35,358.11 L86.60,356.85 L86.85,355.21 L87.10,353.04 L87.35,350.11 L87.60,346.12 L87.85,340.77 L88.10,334.16 L88.35,327.76 L88.60,324.90 L88.85,327.75 L89.10,334.14 L89.35,340.75 L89.60,346.09 L89.85,350.07 L90.10,352.99 L90.35,355.16 L90.60,356.79 L90.85,358.05 L91.10,359.03 L91.35,359.81 L91.60,360.44 L91.85,360.96 L92.10,361.38 L92.35,361.73 L92.60,362.03 L92.85,362.28 L93.10,362.50 L93.35,362.68 L93.60,362.84 L93.85,362.97 L94.10,363.09 L94.35,363.20 L94.60,363.29 L94.85,363.37 L95.10,363.43 L95.35,363.50 L95.60,363.55 L95.85,363.60 L96.10,363.64 L96.35,363.68 L96.60,363.71 L96.85,363.74 L97.10,363.76 L97.35,363.78 L97.60,363.80 L97.85,363.81 L98.10,363.82 L98.35,363.83 L98.60,363.83 L98.85,363.84 L99.10,363.84 L99.35,363.84 L99.60,363.83 L99.85,363.83 L100.10,363.82 L100.35,363.81 L100.60,363.79 L100.85,363.78 L101.10,363.76 L101.35,363.74 L101.60,363.71 L101.85,363.69 L102.10,363.66 L102.35,363.62 L102.60,363.58 L102.85,363.54 L103.10,363.50 L103.35,363.44 L103.60,363.39 L103.85,363.32 L104.10,363.25 L104.35,363.18 L104.60,363.09 L104.85,362.99 L105.10,362.88 L105.35,362.76 L105.60,362.63 L105.85,362.47 L106.10,362.30 L106.35,362.10 L106.60,361.87 L106.85,361.61 L107.10,361.30 L107.35,360.94 L107.60,360.52 L107.85,360.02 L108.10,359.42 L108.35,358.69 L108.60,357.79 L108.85,356.66 L109.10,355.24 L109.35,353.40 L109.60,350.98 L109.85,347.73 L110.10,343.33 L110.35,337.45 L110.60,330.19 L110.85,323.14 L111.10,319.90 L111.35,322.79 L111.60,329.48 L111.85,336.37 L112.10,341.84 L112.35,345.79 L112.60,348.53 L112.85,350.36 L113.10,351.52 L113.35,352.11 L113.60,352.22 L113.85,351.86 L114.10,350.97 L114.35,349.45 L114.60,347.12 L114.85,343.71 L115.10,338.91 L115.35,332.70 L115.60,326.18 L115.85,322.49 L116.10,324.44 L116.35,330.66 L116.60,337.62 L116.85,343.44 L117.10,347.83 L117.35,351.07 L117.60,353.48 L117.85,355.31 L118.10,356.71 L118.35,357.82 L118.60,358.70 L118.85,359.41 L119.10,360.00 L119.35,360.48 L119.60,360.89 L119.85,361.23 L120.10,361.52 L120.35,361.77 L120.60,361.98 L120.85,362.17 L121.10,362.33 L121.35,362.47 L121.60,362.59 L121.85,362.69 L122.10,362.79 L122.35,362.86 L122.60,362.93 L122.85,362.99 L123.10,363.04 L123.35,363.08 L123.60,363.11 L123.85,363.14 L124.10,363.16 L124.35,363.17 L124.60,363.17 L124.85,363.17 L125.10,363.16 L125.35,363.14 L125.60,363.11 L125.85,363.08 L126.10,363.03 L126.35,362.98 L126.60,362.91 L126.85,362.83 L127.10,362.73 L127.35,362.62 L127.60,362.48 L127.85,362.32 L128.10,362.13 L128.35,361.91 L128.60,361.64 L128.85,361.32 L129.10,360.93 L129.35,360.45 L129.60,359.86 L129.85,359.13 L130.10,358.20 L130.35,357.00 L130.60,355.44 L130.85,353.37 L131.10,350.56 L131.35,346.72 L131.60,341.63 L131.85,335.52 L132.10,330.10 L132.35,328.51 L132.60,332.00 L132.85,338.04 L133.10,343.86 L133.35,348.45 L133.60,351.84 L133.85,354.34 L134.10,356.20 L134.35,357.61 L134.60,358.70 L134.85,359.56 L135.10,360.24 L135.35,360.79 L135.60,361.25 L135.85,361.62 L136.10,361.94 L136.35,362.20 L136.60,362.43 L136.85,362.62 L137.10,362.79 L137.35,362.93 L137.60,363.05 L137.85,363.16 L138.10,363.26 L138.35,363.35 L138.60,363.42 L138.85,363.49 L139.10,363.54 L139.35,363.60 L139.60,363.64 L139.85,363.68 L140.10,363.72 L140.35,363.75 L140.60,363.78 L140.85,363.80 L141.10,363.82 L141.35,363.84 L141.60,363.86 L141.85,363.87 L142.10,363.88 L142.35,363.89 L142.60,363.89 L142.85,363.89 L143.10,363.89 L143.35,363.89 L143.60,363.89 L143.85,363.88 L144.10,363.87 L144.35,363.85 L144.60,363.84 L144.85,363.82 L145.10,363.79 L145.35,363.77 L145.60,363.73 L145.85,363.70 L146.10,363.66 L146.35,363.61 L146.60,363.55 L146.85,363.49 L147.10,363.42 L147.35,363.34 L147.60,363.25 L147.85,363.14 L148.10,363.01 L148.35,362.87 L148.60,362.70 L148.85,362.50 L149.10,362.26 L149.35,361.98 L149.60,361.65 L149.85,361.23 L150.10,360.73 L150.35,360.10 L150.60,359.31 L150.85,358.30 L151.10,356.98 L151.35,355.22 L151.60,352.84 L151.85,349.60 L152.10,345.29 L152.35,340.12 L152.60,335.54 L152.85,334.19 L153.10,337.14 L153.35,342.24 L153.60,347.15 L153.85,351.02 L154.10,353.88 L154.35,355.99 L154.60,357.56 L154.85,358.74 L155.10,359.66 L155.35,360.38 L155.60,360.95 L155.85,361.42 L156.10,361.80 L156.35,362.11 L156.60,362.38 L156.85,362.60 L157.10,362.79 L157.35,362.95 L157.60,363.08 L157.85,363.20 L158.10,363.31 L158.35,363.40 L158.60,363.47 L158.85,363.54 L159.10,363.60 L159.35,363.66 L159.60,363.70 L159.85,363.74 L160.10,363.78 L160.35,363.81 L160.60,363.84 L160.85,363.86 L161.10,363.89 L161.35,363.90 L161.60,363.92 L161.85,363.93 L162.10,363.94 L162.35,363.95 L162.60,363.96 L162.85,363.96 L163.10,363.96 L163.35,363.96 L163.60,363.96 L163.85,363.95 L164.10,363.95 L164.35,363.94 L164.60,363.93 L164.85,363.91 L165.10,363.90 L165.35,363.88 L165.60,363.86 L165.85,363.84 L166.10,363.81 L166.35,363.78 L166.60,363.75 L166.85,363.71 L167.10,363.67 L167.35,363.62 L167.60,363.57 L167.85,363.51 L168.10,363.44 L168.35,363.37 L168.60,363.29 L168.85,363.19 L169.10,363.09 L169.35,362.97 L169.60,362.83 L169.85,362.68 L170.10,362.50 L170.35,362.29 L170.60,362.05 L170.85,361.76 L171.10,361.42 L171.35,361.02 L171.60,360.54 L171.85,359.95 L172.10,359.23 L172.35,358.32 L172.60,357.18 L172.85,355.70 L173.10,353.76 L173.35,351.17 L173.60,347.65 L173.85,342.87 L174.10,336.70 L174.35,329.91 L174.60,325.19 L174.85,325.77 L175.10,331.18 L175.35,337.97 L175.60,343.86 L175.85,348.33 L176.10,351.62 L176.35,354.04 L176.60,355.85 L176.85,357.22 L177.10,358.28 L177.35,359.11 L177.60,359.78 L177.85,360.31 L178.10,360.73 L178.35,361.08 L178.60,361.36 L178.85,361.59 L179.10,361.78 L179.35,361.93 L179.60,362.04 L179.85,362.12 L180.10,362.18 L180.35,362.22 L180.60,362.22 L180.85,362.21 L181.10,362.17 L181.35,362.11 L181.60,362.01 L181.85,361.89 L182.10,361.73 L182.35,361.54 L182.60,361.29 L182.85,360.98 L183.10,360.60 L183.35,360.13 L183.60,359.54 L183.85,358.80 L184.10,357.86 L184.35,356.64 L184.60,355.05 L184.85,352.92 L185.10,350.03 L185.35,346.08 L185.60,340.83 L185.85,334.53 L186.10,328.95 L186.35,327.32 L186.60,330.93 L186.85,337.17 L187.10,343.18 L187.35,347.92 L187.60,351.43 L187.85,354.02 L188.10,355.94 L188.35,357.40 L188.60,358.53 L188.85,359.42 L189.10,360.13 L189.35,360.71 L189.60,361.18 L189.85,361.57 L190.10,361.90 L190.35,362.18 L190.60,362.42 L190.85,362.62 L191.10,362.80 L191.35,362.95 L191.60,363.08 L191.85,363.20 L192.10,363.31 L192.35,363.40 L192.60,363.48 L192.85,363.55 L193.10,363.62 L193.35,363.68 L193.60,363.73 L193.85,363.78 L194.10,363.83 L194.35,363.86 L194.60,363.90 L194.85,363.93 L195.10,363.96 L195.35,363.99 L195.60,364.02 L195.85,364.04 L196.10,364.06 L196.35,364.08 L196.60,364.10 L196.85,364.11 L197.10,364.12 L197.35,364.14 L197.60,364.15 L197.85,364.16 L198.10,364.17 L198.35,364.18 L198.60,364.18 L198.85,364.19 L199.10,364.19 L199.35,364.20 L199.60,364.20 L199.85,364.20 L200.10,364.20 L200.35,364.20 L200.60,364.20 L200.85,364.20 L201.10,364.19 L201.35,364.19 L201.60,364.18 L201.85,364.18 L202.10,364.17 L202.35,364.16 L202.60,364.15 L202.85,364.14 L203.10,364.12 L203.35,364.11 L203.60,364.09 L203.85,364.07 L204.10,364.05 L204.35,364.03 L204.60,364.00 L204.85,363.97 L205.10,363.94 L205.35,363.91 L205.60,363.87 L205.85,363.82 L206.10,363.78 L206.35,363.72 L206.60,363.66 L206.85,363.59 L207.10,363.51 L207.35,363.43 L207.60,363.33 L207.85,363.21 L208.10,363.08 L208.35,362.93 L208.60,362.76 L208.85,362.55 L209.10,362.32 L209.35,362.03 L209.60,361.69 L209.85,361.28 L210.10,360.78 L210.35,360.17 L210.60,359.39 L210.85,358.41 L211.10,357.13 L211.35,355.45 L211.60,353.20 L211.85,350.12 L212.10,345.98 L212.35,340.72 L212.60,335.26 L212.85,332.10 L213.10,333.54 L213.35,338.45 L213.60,343.98 L213.85,348.59 L214.10,352.06 L214.35,354.61 L214.60,356.49 L214.85,357.90 L215.10,358.99 L215.35,359.83 L215.60,360.50 L215.85,361.04 L216.10,361.48 L216.35,361.84 L216.60,362.13 L216.85,362.38 L217.10,362.59 L217.35,362.77 L217.60,362.92 L217.85,363.05 L218.10,363.17 L218.35,363.26 L218.60,363.34 L218.85,363.42 L219.10,363.48 L219.35,363.53 L219.60,363.58 L219.85,363.61 L220.10,363.65 L220.35,363.67 L220.60,363.69 L220.85,363.71 L221.10,363.72 L221.35,363.73 L221.60,363.73 L221.85,363.73 L222.10,363.72 L222.35,363.71 L222.60,363.69 L222.85,363.67 L223.10,363.65 L223.35,363.62 L223.60,363.58 L223.85,363.54 L224.10,363.49 L224.35,363.43 L224.60,363.36 L224.85,363.29 L225.10,363.20 L225.35,363.10 L225.60,362.98 L225.85,362.85 L226.10,362.69 L226.35,362.51 L226.60,362.30 L226.85,362.05 L227.10,361.76 L227.35,361.41 L227.60,361.00 L227.85,360.49 L228.10,359.87 L228.35,359.11 L228.60,358.15 L228.85,356.93 L229.10,355.34 L229.35,353.25 L229.60,350.44 L229.85,346.61 L230.10,341.43 L230.35,334.87 L230.60,328.06 L230.85,324.13 L231.10,325.92 L231.35,332.06 L231.60,338.97 L231.85,344.74 L232.10,349.08 L232.35,352.27 L232.60,354.63 L232.85,356.40 L233.10,357.76 L233.35,358.82 L233.60,359.67 L233.85,360.35 L234.10,360.90 L234.35,361.36 L234.60,361.74 L234.85,362.07 L235.10,362.34 L235.35,362.57 L235.60,362.78 L235.85,362.95 L236.10,363.10 L236.35,363.24 L236.60,363.36 L236.85,363.46 L237.10,363.56 L237.35,363.64 L237.60,363.72 L237.85,363.78 L238.10,363.84 L238.35,363.90 L238.60,363.95 L238.85,364.00 L239.10,364.04 L239.35,364.08 L239.60,364.11 L239.85,364.15 L240.10,364.18 L240.35,364.21 L240.60,364.23 L240.85,364.26 L241.10,364.28 L241.35,364.30 L241.60,364.32 L241.85,364.34 L242.10,364.36 L242.35,364.37 L242.60,364.39 L242.85,364.40 L243.10,364.42 L243.35,364.43 L243.60,364.44 L243.85,364.45 L244.10,364.46 L244.35,364.47 L244.60,364.48 L244.85,364.49 L245.10,364.50 L245.35,364.51 L245.60,364.52 L245.85,364.53 L246.10,364.53" fill="none" stroke="#d9a4a8" stroke-width="0.7"/>
<path d="M71.10,361.42 L71.35,361.21 L71.60,360.97 L71.85,360.68 L72.10,360.34 L72.35,359.93 L72.60,359.42 L72.85,358.80 L73.10,358.02 L73.35,357.03 L73.60,355.74 L73.85,354.05 L74.10,351.79 L74.35,348.77 L74.60,344.86 L74.85,340.35 L75.10,336.48 L75.35,335.38 L75.60,337.81 L75.85,342.16 L76.10,346.51 L76.35,350.06 L76.60,352.74 L76.85,354.75 L77.10,356.26 L77.35,357.41 L77.60,358.31 L77.85,359.01 L78.10,359.58 L78.35,360.04 L78.60,360.41 L78.85,360.72 L79.10,360.99 L79.35,361.21 L79.60,361.39 L79.85,361.55 L80.10,361.69 L80.35,361.81 L80.60,361.91 L80.85,362.00 L81.10,362.08 L81.35,362.15 L81.60,362.21 L81.85,362.26 L82.10,362.31 L82.35,362.35 L82.60,362.38 L82.85,362.42 L83.10,362.44 L83.35,362.47 L83.60,362.49 L83.85,362.51 L84.10,362.52 L84.35,362.53 L84.60,362.54 L84.85,362.55 L85.10,362.56 L85.35,362.56 L85.60,362.56 L85.85,362.56 L86.10,362.56 L86.35,362.55 L86.60,362.55 L86.85,362.54 L87.10,362.53 L87.35,362.51 L87.60,362.50 L87.85,362.48 L88.10,362.46 L88.35,362.44 L88.60,362.41 L88.85,362.38 L89.10,362.35 L89.35,362.31 L89.60,362.27 L89.85,362.23 L90.10,362.18 L90.35,362.12 L90.60,362.06 L90.85,361.99 L91.10,361.91 L91.35,361.82 L91.60,361.72 L91.85,361.61 L92.10,361.48 L92.35,361.33 L92.60,361.16 L92.85,360.97 L93.10,360.74 L93.35,360.48 L93.60,360.17 L93.85,359.81 L94.10,359.37 L94.35,358.85 L94.60,358.21 L94.85,357.43 L95.10,356.45 L95.35,355.21 L95.60,353.62 L95.85,351.54 L96.10,348.77 L96.35,345.06 L96.60,340.17 L96.85,334.17 L97.10,328.17 L97.35,324.81 L97.60,326.33 L97.85,331.65 L98.10,337.87 L98.35,343.25 L98.60,347.41 L98.85,350.52 L99.10,352.85 L99.35,354.61 L99.60,355.98 L99.85,357.05 L100.10,357.90 L100.35,358.59 L100.60,359.16 L100.85,359.62 L101.10,360.01 L101.35,360.34 L101.60,360.62 L101.85,360.85 L102.10,361.06 L102.35,361.23 L102.60,361.39 L102.85,361.52 L103.10,361.64 L103.35,361.74 L103.60,361.84 L103.85,361.92 L104.10,361.99 L104.35,362.05 L104.60,362.11 L104.85,362.16 L105.10,362.21 L105.35,362.25 L105.60,362.28 L105.85,362.31 L106.10,362.34 L106.35,362.37 L106.60,362.39 L106.85,362.41 L107.10,362.42 L107.35,362.44 L107.60,362.45 L107.85,362.46 L108.10,362.46 L108.35,362.47 L108.60,362.47 L108.85,362.47 L109.10,362.47 L109.35,362.47 L109.60,362.46 L109.85,362.45 L110.10,362.44 L110.35,362.43 L110.60,362.41 L110.85,362.40 L111.10,362.38 L111.35,362.35 L111.60,362.33 L111.85,362.30 L112.10,362.27 L112.35,362.23 L112.60,362.19 L112.85,362.14 L113.10,362.09 L113.35,362.03 L113.60,361.96 L113.85,361.89 L114.10,361.80 L114.35,361.71 L114.60,361.60 L114.85,361.48 L115.10,361.34 L115.35,361.18 L115.60,360.99 L115.85,360.78 L116.10,360.53 L116.35,360.24 L116.60,359.90 L116.85,359.49 L117.10,359.00 L117.35,358.40 L117.60,357.67 L117.85,356.76 L118.10,355.60 L118.35,354.13 L118.60,352.21 L118.85,349.66 L119.10,346.25 L119.35,341.73 L119.60,336.06 L119.85,330.05 L120.10,326.02 L120.35,326.50 L120.60,331.13 L120.85,337.17 L121.10,342.59 L121.35,346.82 L121.60,349.98 L121.85,352.30 L122.10,354.03 L122.35,355.30 L122.60,356.23 L122.85,356.88 L123.10,357.35 L123.35,357.74 L123.60,358.19 L123.85,358.74 L124.10,359.30 L124.35,359.80 L124.60,360.21 L124.85,360.54 L125.10,360.82 L125.35,361.05 L125.60,361.24 L125.85,361.40 L126.10,361.54 L126.35,361.66 L126.60,361.76 L126.85,361.85 L127.10,361.93 L127.35,362.00 L127.60,362.06 L127.85,362.11 L128.10,362.16 L128.35,362.20 L128.60,362.24 L128.85,362.27 L129.10,362.30 L129.35,362.33 L129.60,362.35 L129.85,362.37 L130.10,362.38 L130.35,362.39 L130.60,362.40 L130.85,362.41 L131.10,362.41 L131.35,362.42 L131.60,362.41 L131.85,362.41 L132.10,362.40 L132.35,362.40 L132.60,362.38 L132.85,362.37 L133.10,362.35 L133.35,362.33 L133.60,362.31 L133.85,362.28 L134.10,362.24 L134.35,362.20 L134.60,362.16 L134.85,362.11 L135.10,362.05 L135.35,361.99 L135.60,361.92 L135.85,361.83 L136.10,361.74 L136.35,361.62 L136.60,361.50 L136.85,361.35 L137.10,361.18 L137.35,360.98 L137.60,360.74 L137.85,360.46 L138.10,360.12 L138.35,359.72 L138.60,359.23 L138.85,358.62 L139.10,357.86 L139.35,356.90 L139.60,355.67 L139.85,354.05 L140.10,351.90 L140.35,349.02 L140.60,345.22 L140.85,340.56 L141.10,335.89 L141.35,333.28 L141.60,334.47 L141.85,338.60 L142.10,343.44 L142.35,347.62 L142.60,350.85 L142.85,353.27 L143.10,355.08 L143.35,356.46 L143.60,357.52 L143.85,358.35 L144.10,359.02 L144.35,359.55 L144.60,359.99 L144.85,360.35 L145.10,360.66 L145.35,360.91 L145.60,361.13 L145.85,361.31 L146.10,361.47 L146.35,361.61 L146.60,361.73 L146.85,361.83 L147.10,361.92 L147.35,362.00 L147.60,362.08 L147.85,362.14 L148.10,362.19 L148.35,362.24 L148.60,362.29 L148.85,362.32 L149.10,362.36 L149.35,362.39 L149.60,362.41 L149.85,362.44 L150.10,362.46 L150.35,362.47 L150.60,362.49 L150.85,362.50 L151.10,362.51 L151.35,362.52 L151.60,362.52 L151.85,362.52 L152.10,362.52 L152.35,362.52 L152.60,362.52 L152.85,362.51 L153.10,362.51 L153.35,362.50 L153.60,362.48 L153.85,362.47 L154.10,362.45 L154.35,362.43 L154.60,362.40 L154.85,362.37 L155.10,362.34 L155.35,362.30 L155.60,362.26 L155.85,362.21 L156.10,362.16 L156.35,362.09 L156.60,362.02 L156.85,361.94 L157.10,361.85 L157.35,361.74 L157.60,361.62 L157.85,361.48 L158.10,361.31 L158.35,361.11 L158.60,360.88 L158.85,360.61 L159.10,360.28 L159.35,359.89 L159.60,359.40 L159.85,358.80 L160.10,358.05 L160.35,357.09 L160.60,355.84 L160.85,354.20 L161.10,352.01 L161.35,349.08 L161.60,345.28 L161.85,340.90 L162.10,337.15 L162.35,336.08 L162.60,338.44 L162.85,342.68 L163.10,346.91 L163.35,350.35 L163.60,352.97 L163.85,354.92 L164.10,356.39 L164.35,357.51 L164.60,358.38 L164.85,359.07 L165.10,359.62 L165.35,360.07 L165.60,360.44 L165.85,360.75 L166.10,361.00 L166.35,361.22 L166.60,361.40 L166.85,361.56 L167.10,361.70 L167.35,361.82 L167.60,361.92 L167.85,362.01 L168.10,362.09 L168.35,362.16 L168.60,362.22 L168.85,362.28 L169.10,362.32 L169.35,362.37 L169.60,362.41 L169.85,362.44 L170.10,362.47 L170.35,362.50 L170.60,362.52 L170.85,362.54 L171.10,362.56 L171.35,362.58 L171.60,362.59 L171.85,362.61 L172.10,362.62 L172.35,362.63 L172.60,362.63 L172.85,362.64 L173.10,362.64 L173.35,362.64 L173.60,362.65 L173.85,362.64 L174.10,362.64 L174.35,362.64 L174.60,362.63 L174.85,362.62 L175.10,362.62 L175.35,362.60 L175.60,362.59 L175.85,362.58 L176.10,362.56 L176.35,362.54 L176.60,362.52 L176.85,362.49 L177.10,362.46 L177.35,362.43 L177.60,362.39 L177.85,362.35 L178.10,362.30 L178.35,362.25 L178.60,362.19 L178.85,362.12 L179.10,362.04 L179.35,361.95 L179.60,361.84 L179.85,361.72 L180.10,361.58 L180.35,361.41 L180.60,361.21 L180.85,360.97 L181.10,360.68 L181.35,360.32 L181.60,359.88 L181.85,359.33 L182.10,358.63 L182.35,357.72 L182.60,356.51 L182.85,354.90 L183.10,352.76 L183.35,350.03 L183.60,347.00 L183.85,344.66 L184.10,344.40 L184.35,346.39 L184.60,349.36 L184.85,352.16 L185.10,354.39 L185.35,356.07 L185.60,357.31 L185.85,358.24 L186.10,358.95 L186.35,359.49 L186.60,359.91 L186.85,360.24 L187.10,360.49 L187.35,360.69 L187.60,360.85 L187.85,360.97 L188.10,361.05 L188.35,361.11 L188.60,361.14 L188.85,361.15 L189.10,361.13 L189.35,361.09 L189.60,361.03 L189.85,360.95 L190.10,360.83 L190.35,360.69 L190.60,360.51 L190.85,360.29 L191.10,360.01 L191.35,359.68 L191.60,359.26 L191.85,358.75 L192.10,358.11 L192.35,357.31 L192.60,356.28 L192.85,354.94 L193.10,353.18 L193.35,350.83 L193.60,347.67 L193.85,343.54 L194.10,338.60 L194.35,333.99 L194.60,332.00 L194.85,334.01 L195.10,338.63 L195.35,343.59 L195.60,347.75 L195.85,350.92 L196.10,353.29 L196.35,355.08 L196.60,356.44 L196.85,357.49 L197.10,358.32 L197.35,358.99 L197.60,359.52 L197.85,359.97 L198.10,360.34 L198.35,360.64 L198.60,360.90 L198.85,361.13 L199.10,361.32 L199.35,361.48 L199.60,361.63 L199.85,361.75 L200.10,361.86 L200.35,361.96 L200.60,362.05 L200.85,362.12 L201.10,362.19 L201.35,362.25 L201.60,362.31 L201.85,362.36 L202.10,362.40 L202.35,362.44 L202.60,362.48 L202.85,362.51 L203.10,362.55 L203.35,362.57 L203.60,362.60 L203.85,362.62 L204.10,362.64 L204.35,362.66 L204.60,362.68 L204.85,362.70 L205.10,362.71 L205.35,362.72 L205.60,362.74 L205.85,362.75 L206.10,362.76 L206.35,362.77 L206.60,362.77 L206.85,362.78 L207.10,362.79 L207.35,362.79 L207.60,362.80 L207.85,362.80 L208.10,362.80 L208.35,362.80 L208.60,362.80 L208.85,362.81 L209.10,362.80 L209.35,362.80 L209.60,362.80 L209.85,362.80 L210.10,362.79 L210.35,362.79 L210.60,362.78 L210.85,362.78 L211.10,362.77 L211.35,362.76 L211.60,362.75 L211.85,362.74 L212.10,362.73 L212.35,362.71 L212.60,362.70 L212.85,362.68 L213.10,362.66 L213.35,362.64 L213.60,362.62 L213.85,362.60 L214.10,362.57 L214.35,362.54 L214.60,362.50 L214.85,362.47 L215.10,362.43 L215.35,362.38 L215.60,362.33 L215.85,362.27 L216.10,362.21 L216.35,362.14 L216.60,362.05 L216.85,361.96 L217.10,361.86 L217.35,361.74 L217.60,361.60 L217.85,361.44 L218.10,361.26 L218.35,361.05 L218.60,360.80 L218.85,360.50 L219.10,360.14 L219.35,359.71 L219.60,359.18 L219.85,358.53 L220.10,357.71 L220.35,356.66 L220.60,355.31 L220.85,353.53 L221.10,351.15 L221.35,347.98 L221.60,343.87 L221.85,339.11 L222.10,335.05 L222.35,333.88 L222.60,336.45 L222.85,341.03 L223.10,345.61 L223.35,349.35 L223.60,352.18 L223.85,354.29 L224.10,355.88 L224.35,357.10 L224.60,358.04 L224.85,358.79 L225.10,359.39 L225.35,359.87 L225.60,360.27 L225.85,360.60 L226.10,360.87 L226.35,361.11 L226.60,361.31 L226.85,361.47 L227.10,361.62 L227.35,361.75 L227.60,361.86 L227.85,361.95 L228.10,362.03 L228.35,362.11 L228.60,362.17 L228.85,362.23 L229.10,362.28 L229.35,362.32 L229.60,362.36 L229.85,362.39 L230.10,362.42 L230.35,362.44 L230.60,362.46 L230.85,362.48 L231.10,362.50 L231.35,362.51 L231.60,362.51 L231.85,362.52 L232.10,362.52 L232.35,362.52 L232.60,362.51 L232.85,362.50 L233.10,362.49 L233.35,362.48 L233.60,362.46 L233.85,362.43 L234.10,362.40 L234.35,362.37 L234.60,362.33 L234.85,362.28 L235.10,362.23 L235.35,362.16 L235.60,362.09 L235.85,362.00 L236.10,361.90 L236.35,361.78 L236.60,361.64 L236.85,361.47 L237.10,361.26 L237.35,361.02 L237.60,360.72 L237.85,360.36 L238.10,359.90 L238.35,359.33 L238.60,358.60 L238.85,357.64 L239.10,356.37 L239.35,354.68 L239.60,352.43 L239.85,349.54 L240.10,346.34 L240.35,343.88 L240.60,343.62 L240.85,345.75 L241.10,348.92 L241.35,351.92 L241.60,354.31 L241.85,356.11 L242.10,357.46 L242.35,358.48 L242.60,359.26 L242.85,359.86 L243.10,360.35 L243.35,360.74 L243.60,361.05 L243.85,361.32 L244.10,361.53 L244.35,361.72 L244.60,361.87 L244.85,362.01 L245.10,362.12 L245.35,362.22 L245.60,362.31 L245.85,362.39 L246.10,362.45" fill="none" stroke="#8484bc" stroke-width="0.7"/>
<line x1="246.60" y1="288.70" x2="246.60" y2="368.80" stroke="#aaa" stroke-width="1"/>
<line x1="70.60" y1="288.70" x2="70.60" y2="369.40" stroke="#26264a" stroke-width="1.2"/>
<line x1="70.60" y1="288.70" x2="247.10" y2="288.70" stroke="#1a1a2a" stroke-width="0.95"/>
<rect x="70.60" y="368.60" width="176.50" height="1.4" fill="#dcdce6"/>
<rect x="70.80" y="289.00" width="12.00" height="0.9" fill="#34347a"/>
<rect x="70.80" y="368.60" width="12.00" height="1.4" fill="#2a2a70"/>
<rect x="91.00" y="289.00" width="13.40" height="0.9" fill="#34347a"/>
<rect x="91.00" y="368.60" width="13.40" height="1.4" fill="#2a2a70"/>
<rect x="114.00" y="289.00" width="17.60" height="0.9" fill="#34347a"/>
<rect x="114.00" y="368.60" width="17.60" height="1.4" fill="#2a2a70"/>
<rect x="134.60" y="289.00" width="14.20" height="0.9" fill="#34347a"/>
<rect x="134.60" y="368.60" width="14.20" height="1.4" fill="#2a2a70"/>
<rect x="155.50" y="289.00" width="13.70" height="0.9" fill="#34347a"/>
<rect x="155.50" y="368.60" width="13.70" height="1.4" fill="#2a2a70"/>
<rect x="177.30" y="289.00" width="12.10" height="0.9" fill="#34347a"/>
<rect x="177.30" y="368.60" width="12.10" height="1.4" fill="#2a2a70"/>
<rect x="192.70" y="289.00" width="5.10" height="0.9" fill="#34347a"/>
<rect x="192.70" y="368.60" width="5.10" height="1.4" fill="#2a2a70"/>
<rect x="215.50" y="289.00" width="13.90" height="0.9" fill="#34347a"/>
<rect x="215.50" y="368.60" width="13.90" height="1.4" fill="#2a2a70"/>
<rect x="233.80" y="289.00" width="12.80" height="0.9" fill="#34347a"/>
<rect x="233.80" y="368.60" width="12.80" height="1.4" fill="#2a2a70"/>
<text x="68.6" y="289.90" font-size="3.2" text-anchor="end" fill="#111" stroke="#111" stroke-width="0.08">7,000</text>
<text x="68.6" y="301.34" font-size="3.2" text-anchor="end" fill="#111" stroke="#111" stroke-width="0.08">6,000</text>
<text x="68.6" y="312.79" font-size="3.2" text-anchor="end" fill="#111" stroke="#111" stroke-width="0.08">5,000</text>
<text x="68.6" y="324.23" font-size="3.2" text-anchor="end" fill="#111" stroke="#111" stroke-width="0.08">4,000</text>
<text x="68.6" y="335.67" font-size="3.2" text-anchor="end" fill="#111" stroke="#111" stroke-width="0.08">3,000</text>
<text x="68.6" y="347.11" font-size="3.2" text-anchor="end" fill="#111" stroke="#111" stroke-width="0.08">2,000</text>
<text x="68.6" y="358.56" font-size="3.2" text-anchor="end" fill="#111" stroke="#111" stroke-width="0.08">1,000</text>
<text x="68.6" y="370.00" font-size="3.2" text-anchor="end" fill="#111" stroke="#111" stroke-width="0.08">0</text>
<text x="18.8" y="335.4" font-size="6.3" fill="#222" stroke="#222" stroke-width="0.2">#20</text>
<line x1="175.1" y1="308.2" x2="180.23" y2="329.19" stroke="#111" stroke-width="1.15"/>
<path d="M181.8,335.6 L176.25,330.16 L184.21,328.22 Z" fill="#111"/>
<line x1="233.3" y1="308.2" x2="238.59" y2="329.20" stroke="#111" stroke-width="1.15"/>
<path d="M240.2,335.6 L234.61,330.20 L242.56,328.20 Z" fill="#111"/>
<text transform="translate(70,379) scale(0.78,1)" font-size="8.8" fill="#333" stroke="#333" stroke-width="0.22">ex1</text>
<text transform="translate(90.8,379) scale(0.78,1)" font-size="8.8" fill="#333" stroke="#333" stroke-width="0.22">ex3</text>
<text transform="translate(114.8,379) scale(0.78,1)" font-size="8.8" fill="#333" stroke="#333" stroke-width="0.22">ex8</text>
<text transform="translate(135,379) scale(0.78,1)" font-size="8.8" fill="#333" stroke="#333" stroke-width="0.22">ex6</text>
<text transform="translate(156,379) scale(0.78,1)" font-size="8.8" fill="#333" stroke="#333" stroke-width="0.22">ex9</text>
<text transform="translate(176.9,379) scale(0.78,1)" font-size="8.8" fill="#333" stroke="#333" stroke-width="0.22">ex5</text>
<text transform="translate(192.8,379) scale(0.78,1)" font-size="8.8" fill="#333" stroke="#333" stroke-width="0.22">ex7</text>
<text transform="translate(216.3,379) scale(0.78,1)" font-size="8.8" fill="#333" stroke="#333" stroke-width="0.22">ex2</text>
<text transform="translate(233.8,379) scale(0.78,1)" font-size="8.8" fill="#333" stroke="#333" stroke-width="0.22">ex4</text>
<path d="M319,13.8 C335,13.2 350,13.4 367,13.9 S400,14.2 420,13.8 S445,13.2 480,13.8" fill="none" stroke="#777" stroke-width="0.75"/>
<circle cx="319.2" cy="13.6" r="1.0" fill="#aaa" stroke="#444" stroke-width="0.6"/>
<rect x="366.75" y="12.6" width="1.1" height="2.4" fill="#333"/>
<rect x="416.75" y="12.6" width="1.1" height="2.4" fill="#333"/>
<rect x="425.45" y="12.6" width="1.1" height="2.4" fill="#333"/>
<rect x="428.25" y="12.6" width="1.1" height="2.4" fill="#333"/>
<rect x="458.95" y="12.6" width="1.1" height="2.4" fill="#333"/>
<rect x="467.45" y="12.6" width="1.1" height="2.4" fill="#333"/>
<rect x="472.45" y="12.6" width="1.1" height="2.4" fill="#333"/>
<rect x="479.6" y="12.2" width="11.6" height="3.3" fill="#ccc" stroke="#555" stroke-width="0.6"/>
<text x="500.0" y="16.4" font-size="6.3" font-weight="bold" fill="#111" stroke="#111" stroke-width="0.25">PTEN</text>
<text transform="translate(360.6,8.3) scale(0.8,1)" font-size="9" fill="#555" stroke="#555" stroke-width="0.15">ex2</text>
<text transform="translate(409.8,8.3) scale(0.8,1)" font-size="9" fill="#555" stroke="#555" stroke-width="0.15">ex3</text>
<line x1="362.5" y1="15" x2="362.5" y2="137.5" stroke="#aaa" stroke-width="0.6"/>
<line x1="421.7" y1="15" x2="421.7" y2="137.5" stroke="#aaa" stroke-width="0.6"/>
<text x="311.2" y="47.8" font-size="3.95" fill="#222" stroke="#222" stroke-width="0.1">Copy Number</text>
<text x="304" y="54.6" font-size="3.2" fill="#444">4.00</text>
<text x="304" y="97" font-size="3.2" fill="#444">2.00</text>
<text x="304" y="138.6" font-size="3.2" fill="#444">0.00</text>
<line x1="310.5" y1="53.9" x2="514.8" y2="53.9" stroke="#8e8e8e" stroke-width="1.9"/>
<line x1="310.5" y1="95.6" x2="514.8" y2="95.6" stroke="#c4c4c4" stroke-width="1.4"/>
<line x1="310.5" y1="137.6" x2="514.8" y2="137.6" stroke="#939393" stroke-width="1.6"/>
<circle cx="312.50" cy="96.20" r="1.15" fill="#2e2e80"/>
<circle cx="315.70" cy="97.00" r="1.15" fill="#2e2e80"/>
<circle cx="324.20" cy="97.50" r="1.15" fill="#2e2e80"/>
<circle cx="331.20" cy="93.20" r="1.15" fill="#2e2e80"/>
<circle cx="340.50" cy="92.00" r="1.15" fill="#2e2e80"/>
<circle cx="344.70" cy="86.20" r="1.15" fill="#2e2e80"/>
<circle cx="350.00" cy="82.00" r="1.15" fill="#2e2e80"/>
<circle cx="357.50" cy="82.50" r="1.15" fill="#2e2e80"/>
<circle cx="364.00" cy="135.70" r="1.15" fill="#2e2e80"/>
<circle cx="367.70" cy="129.50" r="1.15" fill="#2e2e80"/>
<circle cx="373.20" cy="135.50" r="1.15" fill="#2e2e80"/>
<circle cx="377.50" cy="130.70" r="1.15" fill="#2e2e80"/>
<circle cx="382.00" cy="133.70" r="1.15" fill="#2e2e80"/>
<circle cx="386.00" cy="113.20" r="1.15" fill="#2e2e80"/>
<circle cx="390.00" cy="132.00" r="1.15" fill="#2e2e80"/>
<circle cx="392.50" cy="130.50" r="1.15" fill="#2e2e80"/>
<circle cx="401.20" cy="132.50" r="1.15" fill="#2e2e80"/>
<circle cx="403.10" cy="133.80" r="1.15" fill="#2e2e80"/>
<circle cx="411.70" cy="134.50" r="1.15" fill="#2e2e80"/>
<circle cx="420.00" cy="132.50" r="1.15" fill="#2e2e80"/>
<circle cx="416.50" cy="98.20" r="1.15" fill="#2e2e80"/>
<circle cx="424.20" cy="95.80" r="1.15" fill="#2e2e80"/>
<circle cx="432.00" cy="93.20" r="1.15" fill="#2e2e80"/>
<circle cx="439.70" cy="100.00" r="1.15" fill="#2e2e80"/>
<circle cx="446.70" cy="103.00" r="1.15" fill="#2e2e80"/>
<circle cx="450.00" cy="113.20" r="1.15" fill="#2e2e80"/>
<circle cx="453.70" cy="109.20" r="1.15" fill="#2e2e80"/>
<circle cx="461.00" cy="107.00" r="1.15" fill="#2e2e80"/>
<circle cx="465.50" cy="102.00" r="1.15" fill="#2e2e80"/>
<circle cx="468.70" cy="104.50" r="1.15" fill="#2e2e80"/>
<circle cx="473.20" cy="106.20" r="1.15" fill="#2e2e80"/>
<circle cx="480.50" cy="70.00" r="1.15" fill="#2e2e80"/>
<circle cx="485.20" cy="103.00" r="1.15" fill="#2e2e80"/>
<circle cx="491.50" cy="97.50" r="1.15" fill="#2e2e80"/>
<circle cx="499.00" cy="95.00" r="1.15" fill="#2e2e80"/>
<circle cx="506.20" cy="106.50" r="1.15" fill="#2e2e80"/>
<circle cx="511.50" cy="107.70" r="1.15" fill="#2e2e80"/>
<text x="268.2" y="75.9" font-size="6.5" fill="#222" stroke="#222" stroke-width="0.25">#12</text>
<defs><linearGradient id="g1" x1="0" y1="0" x2="0" y2="1"><stop offset="0" stop-color="#d4d4d4"/><stop offset="0.45" stop-color="#a2a2a2"/><stop offset="1" stop-color="#727272"/></linearGradient><linearGradient id="g0" x1="0" y1="0" x2="0" y2="1"><stop offset="0" stop-color="#f2f2f2"/><stop offset="1" stop-color="#d8d8d8"/></linearGradient></defs>
<rect x="310.6" y="148.3" width="39" height="6" fill="url(#g0)" stroke="#666" stroke-width="0.6"/>
<rect x="349.6" y="148.3" width="165" height="6" fill="url(#g1)" stroke="#666" stroke-width="0.6"/>
<text x="302" y="153.6" font-size="2.8" fill="#555">-ac70</text>
<text x="308" y="157.4" font-size="2.6" fill="#555">a010</text>
<text x="510" y="157.4" font-size="2.6" fill="#555">a2470</text>
<text x="310" y="168.8" font-size="3.4" fill="#444">86658 840bps</text>
<text x="351" y="168.8" font-size="3.4" fill="#444">86611 1240bps</text>
<text x="402" y="168.8" font-size="3.4" fill="#444">86667 7kbps</text>
<text x="452.6" y="168.8" font-size="3.4" fill="#444">86723 240bps</text>
</svg></body></html>
